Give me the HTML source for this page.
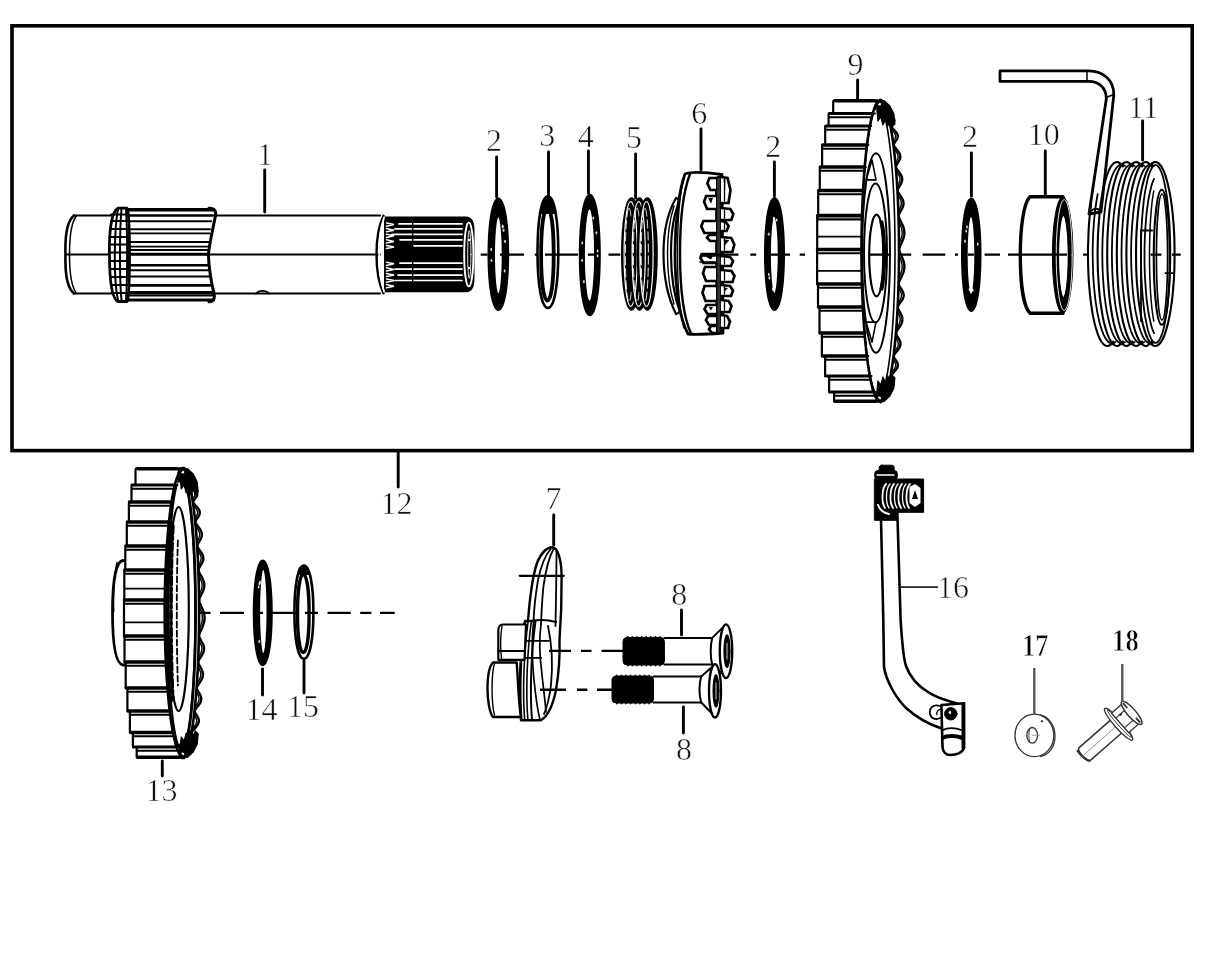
<!DOCTYPE html>
<html><head><meta charset="utf-8"><title>Parts diagram</title>
<style>
html,body{margin:0;padding:0;background:#fff;}
body{width:1220px;height:956px;overflow:hidden;position:relative;font-family:"Liberation Serif",serif;}
svg{position:absolute;left:0;top:0;will-change:transform;}
.k{stroke:#000;fill:none;stroke-linejoin:round;stroke-linecap:round;}
</style></head><body>
<svg width="1220" height="956" viewBox="0 0 1220 956">
<rect x="12" y="25.8" width="1180.2" height="424.8" fill="none" stroke="#000" stroke-width="3.6"/>
<g class="k" stroke-width="1.6">
<path d="M74 215.5 H380 M74 293.5 H380" stroke-width="2.1"/>
<path d="M74 215.5 C66 222 65 240 65.5 254.5 C65 270 66 287 74 293.5" stroke-width="2.6"/>
<path d="M76 216.5 C70.5 224 69.5 240 69.5 254.5 C69.5 270 70.5 285 76 292.5" stroke-width="1.5"/>
<path d="M66 254.5 H112 M206 254.5 H380" stroke-width="2.2"/>
<path d="M126 215.5 H212.1" stroke-width="1.9"/>
<path d="M126 221.3 H211.1" stroke-width="1.9"/>
<path d="M126 229.3 H210.0" stroke-width="1.9"/>
<path d="M126 233.4 H209.6" stroke-width="1.9"/>
<path d="M126 242 H208.9" stroke-width="1.9"/>
<path d="M126 246.6 H208.6" stroke-width="1.9"/>
<path d="M126 250 H208.5" stroke-width="1.9"/>
<path d="M126 270.2 H209.1" stroke-width="1.9"/>
<path d="M126 276.5 H209.6" stroke-width="1.9"/>
<path d="M126 292 H211.8" stroke-width="1.9"/>
<path d="M126 295.5 H212.5" stroke-width="1.9"/>
<path d="M126 209.8 H213.2" stroke-width="3.6"/>
<path d="M126 254.2 H208.5" stroke-width="3.0"/>
<path d="M126 265.3 H208.8" stroke-width="2.6"/>
<path d="M126 285.4 H210.8" stroke-width="2.6"/>
<path d="M126 300 H213.4" stroke-width="3.2"/>
<path d="M209 208.3 C216 208.5 216.5 212 215 218 C211 238 208.5 249 208.5 254.5 C208.5 262 210.5 280 213.5 291 C215.5 298 214 301.5 209 301.8" stroke-width="3"/>
<path d="M118 208.2 C110 212 109 240 109.5 254.5 C109.5 270 110 298 118 301.5 L127 301.5 C129.5 298 129.5 270 129.5 254.5 C129.5 240 129.5 212 127 208.2 Z" stroke-width="2.8" fill="#fff"/>
<path d="M118 209 C114 230 113.5 280 118 300" stroke-width="2"/>
<path d="M121.5 209 C119.5 230 119.5 280 121.5 300" stroke-width="2"/>
<path d="M126 209 C127.5 230 127.5 280 126 300" stroke-width="2"/>
<path d="M111 214.5 H128.5" stroke-width="1.8"/>
<path d="M111 221 H128.5" stroke-width="1.8"/>
<path d="M111 229 H128.5" stroke-width="1.8"/>
<path d="M111 237 H128.5" stroke-width="1.8"/>
<path d="M111 244.5 H128.5" stroke-width="1.8"/>
<path d="M111 252.5 H128.5" stroke-width="1.8"/>
<path d="M111 261 H128.5" stroke-width="1.8"/>
<path d="M111 269 H128.5" stroke-width="1.8"/>
<path d="M111 277 H128.5" stroke-width="1.8"/>
<path d="M111 285 H128.5" stroke-width="1.8"/>
<path d="M111 293 H128.5" stroke-width="1.8"/>
<path d="M256 293.5 C259 290 266 290 269 293.5" stroke-width="1.8"/>
<path d="M384 216.4 H466 C472 216.4 474.5 222 474.5 230 V279 C474.5 287 472 292.2 466 292.2 H384 Z" fill="#000" stroke="none"/>
<path d="M383.5 215.8 C377.5 228 376.5 245 376.5 254.5 C376.5 264 377.5 281 383.5 293.2" stroke-width="2.4"/>
<path d="M384 217.5 C380 229 379.3 245 379.3 254.5 C379.3 264 380 280 384 291.5" stroke="#fff" stroke-width="1.9"/>
<path d="M399 223.9 H462" stroke="#fff" stroke-width="1.7"/>
<path d="M395 228.9 H462" stroke="#fff" stroke-width="1.7"/>
<path d="M392 234.3 H462" stroke="#fff" stroke-width="1.7"/>
<path d="M400 239.8 H462" stroke="#fff" stroke-width="1.7"/>
<path d="M413 245.8 H462" stroke="#fff" stroke-width="1.7"/>
<path d="M400 263.2 H462" stroke="#fff" stroke-width="1.7"/>
<path d="M395 269.1 H462" stroke="#fff" stroke-width="1.7"/>
<path d="M398 275.1 H462" stroke="#fff" stroke-width="1.7"/>
<path d="M395 280.5 H462" stroke="#fff" stroke-width="1.7"/>
<path d="M412.7 220 V286" stroke="#000" stroke-width="1.4"/>
<path d="M386.5 223.0 L394 224.6 L386.5 226.2" stroke="#fff" stroke-width="1.5" stroke-linejoin="miter"/>
<path d="M386.5 228.6 L394 230.2 L386.5 231.8" stroke="#fff" stroke-width="1.5" stroke-linejoin="miter"/>
<path d="M386.5 234.2 L394 235.8 L386.5 237.4" stroke="#fff" stroke-width="1.5" stroke-linejoin="miter"/>
<path d="M386.5 239.8 L394 241.4 L386.5 243.0" stroke="#fff" stroke-width="1.5" stroke-linejoin="miter"/>
<path d="M386.5 245.4 L394 247.0 L386.5 248.6" stroke="#fff" stroke-width="1.5" stroke-linejoin="miter"/>
<path d="M386.5 262.2 L394 263.8 L386.5 265.4" stroke="#fff" stroke-width="1.5" stroke-linejoin="miter"/>
<path d="M386.5 267.8 L394 269.4 L386.5 271.0" stroke="#fff" stroke-width="1.5" stroke-linejoin="miter"/>
<path d="M386.5 273.4 L394 275.0 L386.5 276.6" stroke="#fff" stroke-width="1.5" stroke-linejoin="miter"/>
<path d="M386.5 279.0 L394 280.6 L386.5 282.2" stroke="#fff" stroke-width="1.5" stroke-linejoin="miter"/>
<path d="M386.5 284.6 L394 286.2 L386.5 287.8" stroke="#fff" stroke-width="1.5" stroke-linejoin="miter"/>
<ellipse cx="468.8" cy="254.5" rx="4.6" ry="32" fill="none" stroke="#fff" stroke-width="1.9"/>
<ellipse cx="469.3" cy="254.5" rx="1.6" ry="24" fill="none" stroke="#fff" stroke-width="0.9"/>
<circle cx="469" cy="240" r="1.2" fill="#fff" stroke="none"/><circle cx="469" cy="268" r="1.2" fill="#fff" stroke="none"/>
</g>
<g>
<path d="M631.50 198.50 C636.56 198.50 640.70 222.92 640.70 254.00 C640.70 285.08 636.56 309.50 631.50 309.50 C626.44 309.50 622.30 285.08 622.30 254.00 C622.30 222.92 626.44 198.50 631.50 198.50Z" fill="#000"/>
<path d="M639.50 198.50 C644.56 198.50 648.70 222.92 648.70 254.00 C648.70 285.08 644.56 309.50 639.50 309.50 C634.44 309.50 630.30 285.08 630.30 254.00 C630.30 222.92 634.44 198.50 639.50 198.50Z" fill="#000"/>
<path d="M647.30 198.50 C652.36 198.50 656.50 222.92 656.50 254.00 C656.50 285.08 652.36 309.50 647.30 309.50 C642.24 309.50 638.10 285.08 638.10 254.00 C638.10 222.92 642.24 198.50 647.30 198.50Z" fill="#000"/>
<path d="M631.50 198.50 C636.56 198.50 640.70 222.92 640.70 254.00 C640.70 285.08 636.56 309.50 631.50 309.50 C626.44 309.50 622.30 285.08 622.30 254.00 C622.30 222.92 626.44 198.50 631.50 198.50Z" fill="none" stroke="#000" stroke-width="2.6"/>
<path d="M630.70 201.50 C634.33 201.50 637.30 224.60 637.30 254.00 C637.30 283.40 634.33 306.50 630.70 306.50 C627.07 306.50 624.10 283.40 624.10 254.00 C624.10 224.60 627.07 201.50 630.70 201.50Z" fill="none" stroke="#fff" stroke-width="1.2"/>
<path d="M629.00 208.00 C630.98 208.00 632.60 228.68 632.60 255.00 C632.60 281.32 630.98 302.00 629.00 302.00 C627.02 302.00 625.40 281.32 625.40 255.00 C625.40 228.68 627.02 208.00 629.00 208.00Z" fill="none" stroke="#fff" stroke-width="0.9" stroke-dasharray="9 3"/>
<path d="M639.50 198.50 C644.56 198.50 648.70 222.92 648.70 254.00 C648.70 285.08 644.56 309.50 639.50 309.50 C634.44 309.50 630.30 285.08 630.30 254.00 C630.30 222.92 634.44 198.50 639.50 198.50Z" fill="none" stroke="#000" stroke-width="2.6"/>
<path d="M638.70 201.50 C642.33 201.50 645.30 224.60 645.30 254.00 C645.30 283.40 642.33 306.50 638.70 306.50 C635.07 306.50 632.10 283.40 632.10 254.00 C632.10 224.60 635.07 201.50 638.70 201.50Z" fill="none" stroke="#fff" stroke-width="1.2"/>
<path d="M637.00 208.00 C638.98 208.00 640.60 228.68 640.60 255.00 C640.60 281.32 638.98 302.00 637.00 302.00 C635.02 302.00 633.40 281.32 633.40 255.00 C633.40 228.68 635.02 208.00 637.00 208.00Z" fill="none" stroke="#fff" stroke-width="0.9" stroke-dasharray="9 3"/>
<path d="M647.30 198.50 C652.36 198.50 656.50 222.92 656.50 254.00 C656.50 285.08 652.36 309.50 647.30 309.50 C642.24 309.50 638.10 285.08 638.10 254.00 C638.10 222.92 642.24 198.50 647.30 198.50Z" fill="none" stroke="#000" stroke-width="2.6"/>
<path d="M646.50 201.50 C650.13 201.50 653.10 224.60 653.10 254.00 C653.10 283.40 650.13 306.50 646.50 306.50 C642.87 306.50 639.90 283.40 639.90 254.00 C639.90 224.60 642.87 201.50 646.50 201.50Z" fill="none" stroke="#fff" stroke-width="1.2"/>
<path d="M644.80 208.00 C646.78 208.00 648.40 228.68 648.40 255.00 C648.40 281.32 646.78 302.00 644.80 302.00 C642.82 302.00 641.20 281.32 641.20 255.00 C641.20 228.68 642.82 208.00 644.80 208.00Z" fill="none" stroke="#fff" stroke-width="0.9" stroke-dasharray="9 3"/>
</g>
<g class="k" stroke-width="2.4">
<path d="M676 198 C668 212 663.5 232 663.5 253 C663.5 275 668 298 676 314 L680 312 C674 296 671 275 671 253 C671 232 674 213 680 200 Z" fill="#fff" stroke-width="2.2"/>
<path d="M674 206 C669.5 220 667.5 236 667.5 253 C667.5 272 669.5 290 674 304" stroke-width="1.4"/>
<path d="M685 174 C690 172 700 171.5 722 174.5 L723 333 C705 334.5 695 335 688 334 C679 318 675 285 675 253 C675 222 679 190 685 174 Z" fill="#fff" stroke-width="2.8"/>
<path d="M690 174 C683 192 680 222 680 253 C680 285 683 316 691 333.5" stroke-width="2.4"/>
<path d="M684 178 C679 196 677.5 225 677.5 253 C677.5 282 679 310 684 328" stroke-width="1.4"/>
<path d="M717.5 178 C718.5 230 718.5 280 717.5 332" stroke-width="3.2"/>
<path d="M722 176 L722.5 331" stroke-width="1.8"/>
<path d="M716 178 L716.5 333 L721.5 333 L721 176 Z" fill="#333" stroke-width="2"/>
<path d="M716 178 L709.4 178 L707.4 183.4 L710.4 190 L716 190" fill="#fff" stroke-width="2.7" stroke-linejoin="miter"/>
<path d="M716 196 L706.1 196 L704.1 201.8 L707.1 209 L716 209" fill="#fff" stroke-width="2.7" stroke-linejoin="miter"/>
<path d="M708.1 198 L713 198 L711 203.8 Z" fill="#000" stroke="none"/>
<path d="M716 221 L703.3 221 L701.3 226.4 L704.3 233 L716 233" fill="#fff" stroke-width="2.7" stroke-linejoin="miter"/>
<path d="M716 235 L709 235 L707 237.7 L710 241 L716 241" fill="#fff" stroke-width="2.7" stroke-linejoin="miter"/>
<path d="M716 254 L702.5 254 L700.5 258.1 L703.5 263 L716 263" fill="#fff" stroke-width="2.7" stroke-linejoin="miter"/>
<path d="M704.5 256 L713 256 L711 259.4 Z" fill="#000" stroke="none"/>
<path d="M716 267 L705 267 L703 273.3 L706 281 L716 281" fill="#fff" stroke-width="2.7" stroke-linejoin="miter"/>
<path d="M716 286 L704.5 286 L702.5 292.8 L705.5 301 L716 301" fill="#fff" stroke-width="2.7" stroke-linejoin="miter"/>
<path d="M716 305 L706.5 305 L704.5 309.1 L707.5 314 L716 314" fill="#fff" stroke-width="2.7" stroke-linejoin="miter"/>
<path d="M708.5 307 L713 307 L711 310.4 Z" fill="#000" stroke="none"/>
<path d="M716 316 L708 316 L706 320.1 L709 325 L716 325" fill="#fff" stroke-width="2.7" stroke-linejoin="miter"/>
<path d="M716 326 L711 326 L709 329.1 L712 333 L716 333" fill="#fff" stroke-width="2.7" stroke-linejoin="miter"/>
<path d="M721 177 L727.5 178 L730.5 190.0 L728.5 203 L721 203" fill="#fff" stroke-width="2.7" stroke-linejoin="miter"/>
<path d="M723.5 179.5 L725.5 180 L725 191.3 Z" fill="#000" stroke="none"/>
<path d="M724.5 179 L724.5 201" stroke-width="1.3"/>
<path d="M721 208 L730.3 209 L733.3 214.0 L731.3 220 L721 220" fill="#fff" stroke-width="2.7" stroke-linejoin="miter"/>
<path d="M724.5 210 L724.5 218" stroke-width="1.3"/>
<path d="M721 221 L725.6 222 L728.6 226.0 L726.6 231 L721 231" fill="#fff" stroke-width="2.7" stroke-linejoin="miter"/>
<path d="M724.5 223 L724.5 229" stroke-width="1.3"/>
<path d="M721 237 L731.3 238 L734.3 244.5 L732.3 252 L721 252" fill="#fff" stroke-width="2.7" stroke-linejoin="miter"/>
<path d="M723.5 239.5 L729.3 240 L725 245.2 Z" fill="#000" stroke="none"/>
<path d="M724.5 239 L724.5 250" stroke-width="1.3"/>
<path d="M721 256 L730 257 L733 261.0 L731 266 L721 266" fill="#fff" stroke-width="2.7" stroke-linejoin="miter"/>
<path d="M724.5 258 L724.5 264" stroke-width="1.3"/>
<path d="M721 270 L731.5 271 L734.5 276.0 L732.5 282 L721 282" fill="#fff" stroke-width="2.7" stroke-linejoin="miter"/>
<path d="M724.5 272 L724.5 280" stroke-width="1.3"/>
<path d="M721 285 L730 286 L733 290.5 L731 296 L721 296" fill="#fff" stroke-width="2.7" stroke-linejoin="miter"/>
<path d="M723.5 287.5 L728 288 L725 291.1 Z" fill="#000" stroke="none"/>
<path d="M724.5 287 L724.5 294" stroke-width="1.3"/>
<path d="M721 300 L728.5 301 L731.5 306.0 L729.5 312 L721 312" fill="#fff" stroke-width="2.7" stroke-linejoin="miter"/>
<path d="M724.5 302 L724.5 310" stroke-width="1.3"/>
<path d="M721 315 L727 316 L730 321.5 L728 328 L721 328" fill="#fff" stroke-width="2.7" stroke-linejoin="miter"/>
<path d="M724.5 317 L724.5 326" stroke-width="1.3"/>
<path d="M700 256 H721 M700 262 H716" stroke-width="1.6"/>
</g>
<g class="k">
<path d="M880.0 100.0 L880.1 100.0 L880.3 100.0 L880.4 100.0 L880.6 100.1 L880.7 100.1 L880.9 100.2 L881.1 100.2 L881.2 100.3 L881.4 100.4 L881.5 100.5 L881.7 100.6 L881.9 100.7 L882.0 100.8 L882.2 100.9 L882.4 101.0 L882.6 101.2 L882.8 101.3 L883.0 101.5 L883.2 101.7 L883.4 101.9 L883.7 102.0 L883.9 102.2 L884.2 102.5 L884.4 102.7 L884.7 102.9 L885.0 103.1 L885.3 103.4 L885.6 103.6 L885.9 103.9 L886.2 104.2 L886.5 104.5 L886.8 104.7 L887.1 105.0 L887.4 105.4 L887.7 105.7 L888.0 106.0 L888.3 106.3 L888.5 106.7 L888.7 107.0 L888.9 107.4 L889.0 107.8 L889.1 108.1 L889.2 108.5 L889.2 108.9 L889.2 109.3 L889.1 109.7 L889.0 110.2 L888.9 110.6 L888.7 111.0 L888.5 111.5 L888.3 112.0 L888.1 112.4 L887.9 112.9 L887.8 113.4 L888.1 113.9 L888.6 114.4 L889.2 114.9 L889.8 115.4 L890.5 115.9 L891.2 116.5 L891.9 117.0 L892.6 117.6 L893.2 118.1 L893.7 118.7 L894.1 119.3 L894.3 119.8 L894.4 120.4 L894.4 121.0 L894.1 121.6 L893.8 122.3 L893.3 122.9 L892.7 123.5 L892.1 124.1 L891.4 124.8 L890.9 125.4 L890.7 126.1 L891.1 126.8 L891.7 127.5 L892.3 128.1 L893.0 128.8 L893.7 129.5 L894.4 130.2 L895.1 131.0 L895.7 131.7 L896.3 132.4 L896.8 133.2 L897.2 133.9 L897.5 134.7 L897.7 135.4 L897.8 136.2 L897.7 137.0 L897.6 137.7 L897.3 138.5 L896.9 139.3 L896.4 140.1 L895.8 140.9 L895.3 141.7 L894.7 142.6 L894.2 143.4 L893.7 144.2 L893.5 145.1 L894.0 145.9 L894.5 146.8 L895.2 147.6 L895.9 148.5 L896.6 149.4 L897.4 150.3 L898.1 151.1 L898.7 152.0 L899.2 152.9 L899.7 153.8 L900.0 154.7 L900.2 155.7 L900.3 156.6 L900.2 157.5 L900.1 158.5 L899.7 159.4 L899.3 160.3 L898.8 161.3 L898.2 162.2 L897.6 163.2 L897.0 164.2 L896.5 165.1 L896.0 166.1 L895.8 167.1 L896.3 168.1 L896.9 169.1 L897.6 170.1 L898.3 171.1 L899.1 172.1 L899.8 173.1 L900.5 174.1 L901.1 175.2 L901.6 176.2 L901.9 177.2 L902.1 178.3 L902.2 179.3 L902.1 180.3 L901.9 181.4 L901.5 182.4 L901.1 183.5 L900.5 184.6 L899.9 185.6 L899.2 186.7 L898.5 187.8 L898.0 188.9 L897.5 189.9 L897.6 191.0 L898.1 192.1 L898.7 193.2 L899.5 194.3 L900.2 195.4 L901.0 196.5 L901.6 197.6 L902.3 198.7 L902.8 199.9 L903.2 201.0 L903.4 202.1 L903.5 203.2 L903.5 204.3 L903.3 205.5 L902.9 206.6 L902.5 207.7 L901.9 208.9 L901.3 210.0 L900.6 211.2 L899.9 212.3 L899.3 213.4 L898.7 214.6 L898.5 215.7 L898.8 216.9 L899.2 218.1 L899.7 219.2 L900.3 220.4 L900.9 221.5 L901.4 222.7 L902.0 223.9 L902.5 225.0 L903.0 226.2 L903.4 227.4 L903.8 228.6 L904.0 229.7 L904.2 230.9 L904.3 232.1 L904.4 233.3 L904.3 234.4 L904.1 235.6 L903.8 236.8 L903.5 238.0 L903.1 239.2 L902.6 240.3 L902.1 241.5 L901.6 242.7 L901.0 243.9 L900.5 245.1 L900.0 246.3 L899.5 247.4 L899.2 248.6 L899.0 249.8 L899.3 251.0 L899.8 252.2 L900.2 253.4 L900.8 254.6 L901.3 255.7 L901.8 256.9 L902.4 258.1 L902.8 259.3 L903.3 260.5 L903.7 261.7 L904.0 262.8 L904.2 264.0 L904.3 265.2 L904.4 266.4 L904.4 267.6 L904.2 268.7 L904.0 269.9 L903.7 271.1 L903.4 272.3 L903.0 273.4 L902.5 274.6 L901.9 275.8 L901.4 277.0 L900.8 278.1 L900.3 279.3 L899.7 280.5 L899.2 281.6 L898.8 282.8 L898.5 283.9 L898.9 285.1 L899.5 286.3 L900.2 287.4 L901.0 288.6 L901.7 289.7 L902.4 290.8 L902.9 292.0 L903.3 293.1 L903.6 294.3 L903.7 295.4 L903.5 296.5 L903.2 297.7 L902.8 298.8 L902.2 299.9 L901.5 301.0 L900.7 302.1 L899.8 303.3 L899.0 304.4 L898.3 305.5 L897.8 306.6 L897.8 307.7 L898.2 308.8 L898.7 309.9 L899.3 311.0 L899.9 312.1 L900.5 313.1 L901.0 314.2 L901.5 315.3 L901.9 316.4 L902.2 317.4 L902.4 318.5 L902.4 319.6 L902.3 320.6 L902.1 321.7 L901.8 322.7 L901.4 323.7 L900.9 324.8 L900.3 325.8 L899.6 326.8 L898.9 327.9 L898.2 328.9 L897.5 329.9 L896.9 330.9 L896.4 331.9 L896.0 332.9 L896.2 333.9 L896.6 334.9 L897.1 335.9 L897.7 336.9 L898.3 337.8 L898.9 338.8 L899.4 339.8 L899.8 340.7 L900.1 341.7 L900.4 342.6 L900.4 343.5 L900.4 344.5 L900.3 345.4 L900.0 346.3 L899.6 347.3 L899.1 348.2 L898.6 349.1 L897.9 350.0 L897.2 350.9 L896.5 351.7 L895.8 352.6 L895.1 353.5 L894.5 354.4 L894.0 355.2 L893.7 356.1 L893.9 356.9 L894.3 357.8 L894.8 358.6 L895.4 359.4 L895.9 360.3 L896.4 361.1 L896.9 361.9 L897.3 362.7 L897.6 363.5 L897.8 364.3 L897.9 365.0 L897.8 365.8 L897.7 366.6 L897.4 367.3 L897.1 368.1 L896.6 368.8 L896.1 369.6 L895.5 370.3 L894.9 371.0 L894.2 371.8 L893.5 372.5 L892.9 373.2 L892.2 373.9 L891.6 374.5 L891.1 375.2 L890.7 375.9 L890.8 376.6 L891.1 377.2 L891.6 377.9 L892.0 378.5 L892.5 379.1 L892.9 379.7 L893.3 380.4 L893.5 381.0 L893.8 381.6 L893.9 382.2 L893.9 382.7 L893.9 383.3 L893.7 383.9 L893.5 384.4 L893.2 385.0 L892.8 385.5 L892.4 386.1 L892.0 386.6 L891.5 387.1 L890.9 387.6 L890.4 388.1 L889.9 388.6 L889.4 389.1 L888.9 389.6 L888.4 390.0 L887.9 390.5 L887.5 391.0 L887.2 391.4 L886.9 391.8 L886.8 392.3 L887.0 392.7 L887.1 393.1 L887.4 393.5 L887.5 393.9 L887.7 394.2 L887.8 394.6 L887.9 395.0 L888.0 395.3 L887.9 395.7 L887.9 396.0 L887.8 396.3 L887.6 396.6 L887.4 397.0 L887.2 397.3 L886.9 397.5 L886.6 397.8 L886.3 398.1 L886.0 398.4 L885.7 398.6 L885.4 398.9 L885.1 399.1 L884.8 399.3 L884.5 399.5 L884.2 399.8 L883.9 400.0 L883.6 400.1 L883.4 400.3 L883.1 400.5 L882.9 400.7 L882.7 400.8 L882.5 401.0 L882.3 401.1 L882.1 401.2 L881.9 401.3 L881.7 401.4 L881.5 401.5 L881.4 401.6 L881.2 401.7 L881.1 401.8 L880.9 401.8 L880.7 401.9 L880.6 401.9 L880.4 402.0 L880.3 402.0 L880.1 402.0 L880.0 402.0 L880 402 L880 100 Z" fill="#fff" stroke-width="2.4"/>
<path d="M879.0 100.3 L879.2 100.4 L879.3 100.5 L879.5 100.6 L879.7 100.7 L879.8 100.8 L880.0 100.9 L880.2 101.0 L880.4 101.2 L880.6 101.3 L880.8 101.5 L881.0 101.7 L881.2 101.9 L881.5 102.0 L881.7 102.2 L882.0 102.5 L882.2 102.7 L882.5 102.9 L882.8 103.1 L883.1 103.4 L883.4 103.6 L883.7 103.9 L884.0 104.2 L884.3 104.5 L884.6 104.7 L884.9 105.0 L885.2 105.4 L885.5 105.7 L885.8 106.0 L886.1 106.3 L886.3 106.7 L886.5 107.0 L886.7 107.4 L886.8 107.8 L886.9 108.1 L887.0 108.5 L887.0 108.9 L887.0 109.3 L886.9 109.7 L886.8 110.2 L886.7 110.6 L886.5 111.0 L886.3 111.5 L886.1 112.0 L885.9 112.4 L885.7 112.9 L885.6 113.4 L885.9 113.9 L886.4 114.4 L887.0 114.9 L887.6 115.4 L888.3 115.9 L889.0 116.5 L889.7 117.0 L890.4 117.6 L891.0 118.1 L891.5 118.7 L891.9 119.3 L892.1 119.8 L892.2 120.4 L892.2 121.0 L891.9 121.6 L891.6 122.3 L891.1 122.9 L890.5 123.5 L889.9 124.1 L889.2 124.8 L888.7 125.4 L888.5 126.1 L888.9 126.8 L889.5 127.5 L890.1 128.1 L890.8 128.8 L891.5 129.5 L892.2 130.2 L892.9 131.0 L893.5 131.7 L894.1 132.4 L894.6 133.2 L895.0 133.9 L895.3 134.7 L895.5 135.4 L895.6 136.2 L895.5 137.0 L895.4 137.7 L895.1 138.5 L894.7 139.3 L894.2 140.1 L893.6 140.9 L893.1 141.7 L892.5 142.6 L892.0 143.4 L891.5 144.2 L891.3 145.1 L891.8 145.9 L892.3 146.8 L893.0 147.6 L893.7 148.5 L894.4 149.4 L895.2 150.3 L895.9 151.1 L896.5 152.0 L897.0 152.9 L897.5 153.8 L897.8 154.7 L898.0 155.7 L898.1 156.6 L898.0 157.5 L897.9 158.5 L897.5 159.4 L897.1 160.3 L896.6 161.3 L896.0 162.2 L895.4 163.2 L894.8 164.2 L894.3 165.1 L893.8 166.1 L893.6 167.1 L894.1 168.1 L894.7 169.1 L895.4 170.1 L896.1 171.1 L896.9 172.1 L897.6 173.1 L898.3 174.1 L898.9 175.2 L899.4 176.2 L899.7 177.2 L899.9 178.3 L900.0 179.3 L899.9 180.3 L899.7 181.4 L899.3 182.4 L898.9 183.5 L898.3 184.6 L897.7 185.6 L897.0 186.7 L896.3 187.8 L895.8 188.9 L895.3 189.9 L895.4 191.0 L895.9 192.1 L896.5 193.2 L897.3 194.3 L898.0 195.4 L898.8 196.5 L899.4 197.6 L900.1 198.7 L900.6 199.9 L901.0 201.0 L901.2 202.1 L901.3 203.2 L901.3 204.3 L901.1 205.5 L900.7 206.6 L900.3 207.7 L899.7 208.9 L899.1 210.0 L898.4 211.2 L897.7 212.3 L897.1 213.4 L896.5 214.6 L896.3 215.7 L896.6 216.9 L897.0 218.1 L897.5 219.2 L898.1 220.4 L898.7 221.5 L899.2 222.7 L899.8 223.9 L900.3 225.0 L900.8 226.2 L901.2 227.4 L901.6 228.6 L901.8 229.7 L902.0 230.9 L902.1 232.1 L902.2 233.3 L902.1 234.4 L901.9 235.6 L901.6 236.8 L901.3 238.0 L900.9 239.2 L900.4 240.3 L899.9 241.5 L899.4 242.7 L898.8 243.9 L898.3 245.1 L897.8 246.3 L897.3 247.4 L897.0 248.6 L896.8 249.8 L897.1 251.0 L897.6 252.2 L898.0 253.4 L898.6 254.6 L899.1 255.7 L899.6 256.9 L900.2 258.1 L900.6 259.3 L901.1 260.5 L901.5 261.7 L901.8 262.8 L902.0 264.0 L902.1 265.2 L902.2 266.4 L902.2 267.6 L902.0 268.7 L901.8 269.9 L901.5 271.1 L901.2 272.3 L900.8 273.4 L900.3 274.6 L899.7 275.8 L899.2 277.0 L898.6 278.1 L898.1 279.3 L897.5 280.5 L897.0 281.6 L896.6 282.8 L896.3 283.9 L896.7 285.1 L897.3 286.3 L898.0 287.4 L898.8 288.6 L899.5 289.7 L900.2 290.8 L900.7 292.0 L901.1 293.1 L901.4 294.3 L901.5 295.4 L901.3 296.5 L901.0 297.7 L900.6 298.8 L900.0 299.9 L899.3 301.0 L898.5 302.1 L897.6 303.3 L896.8 304.4 L896.1 305.5 L895.6 306.6 L895.6 307.7 L896.0 308.8 L896.5 309.9 L897.1 311.0 L897.7 312.1 L898.3 313.1 L898.8 314.2 L899.3 315.3 L899.7 316.4 L900.0 317.4 L900.2 318.5 L900.2 319.6 L900.1 320.6 L899.9 321.7 L899.6 322.7 L899.2 323.7 L898.7 324.8 L898.1 325.8 L897.4 326.8 L896.7 327.9 L896.0 328.9 L895.3 329.9 L894.7 330.9 L894.2 331.9 L893.8 332.9 L894.0 333.9 L894.4 334.9 L894.9 335.9 L895.5 336.9 L896.1 337.8 L896.7 338.8 L897.2 339.8 L897.6 340.7 L897.9 341.7 L898.2 342.6 L898.2 343.5 L898.2 344.5 L898.1 345.4 L897.8 346.3 L897.4 347.3 L896.9 348.2 L896.4 349.1 L895.7 350.0 L895.0 350.9 L894.3 351.7 L893.6 352.6 L892.9 353.5 L892.3 354.4 L891.8 355.2 L891.5 356.1 L891.7 356.9 L892.1 357.8 L892.6 358.6 L893.2 359.4 L893.7 360.3 L894.2 361.1 L894.7 361.9 L895.1 362.7 L895.4 363.5 L895.6 364.3 L895.7 365.0 L895.6 365.8 L895.5 366.6 L895.2 367.3 L894.9 368.1 L894.4 368.8 L893.9 369.6 L893.3 370.3 L892.7 371.0 L892.0 371.8 L891.3 372.5 L890.7 373.2 L890.0 373.9 L889.4 374.5 L888.9 375.2 L888.5 375.9 L888.6 376.6 L888.9 377.2 L889.4 377.9 L889.8 378.5 L890.3 379.1 L890.7 379.7 L891.1 380.4 L891.3 381.0 L891.6 381.6 L891.7 382.2 L891.7 382.7 L891.7 383.3 L891.5 383.9 L891.3 384.4 L891.0 385.0 L890.6 385.5 L890.2 386.1 L889.8 386.6 L889.3 387.1 L888.7 387.6 L888.2 388.1 L887.7 388.6 L887.2 389.1 L886.7 389.6 L886.2 390.0 L885.7 390.5 L885.3 391.0 L885.0 391.4 L884.7 391.8 L884.6 392.3 L884.8 392.7 L884.9 393.1 L885.2 393.5 L885.3 393.9 L885.5 394.2 L885.6 394.6 L885.7 395.0 L885.8 395.3 L885.7 395.7 L885.7 396.0 L885.6 396.3 L885.4 396.6 L885.2 397.0 L885.0 397.3 L884.7 397.5 L884.4 397.8 L884.1 398.1 L883.8 398.4 L883.5 398.6 L883.2 398.9 L882.9 399.1 L882.6 399.3 L882.3 399.5 L882.0 399.8 L881.7 400.0 L881.4 400.1 L881.2 400.3 L880.9 400.5 L880.7 400.7 L880.5 400.8 L880.3 401.0 L880.1 401.1 L879.9 401.2 L879.7 401.3 L879.5 401.4 L879.3 401.5 L879.2 401.6 L879.0 401.7" stroke-width="1.4"/>
<ellipse cx="880" cy="251" rx="19" ry="150" fill="#fff" stroke-width="2.6"/>
<ellipse cx="878.5" cy="251" rx="16.5" ry="145" fill="none" stroke-width="1.6"/>
<ellipse cx="876" cy="253" rx="14" ry="99.7" fill="none" stroke-width="2"/>
<ellipse cx="875.5" cy="253" rx="11.5" ry="69.5" fill="none" stroke-width="2"/>
<ellipse cx="876.5" cy="255.5" rx="7.3" ry="40.8" fill="#fff" stroke-width="2.2"/>
<path d="M881.5 222.3 C885 235.9 885 273.6 881.5 288.7" stroke-width="4"/>
<path d="M866 179.9 L872 159.9 L876 179.9 Z" stroke-width="1.6"/>
<path d="M866 322.1 L872 342.1 L876 322.1 Z" stroke-width="1.6"/>
<path d="M874.9 100.0 H835.2 Q833.2 100.0 833.2 102.0 V112.5 Q833.2 113.5 835.2 113.5 H874.9" fill="#fff" stroke-width="2.2"/>
<path d="M871.1 113.5 H830.6 Q828.6 113.5 828.6 115.5 V125.0 Q828.6 126.0 830.6 126.0 H871.1" fill="#fff" stroke-width="2.2"/>
<path d="M868.3 126.0 H827.2 Q825.2 126.0 825.2 128.0 V144.0 Q825.2 145.0 827.2 145.0 H868.3" fill="#fff" stroke-width="2.2"/>
<path d="M865.7 145.0 H824.1 Q822.1 145.0 822.1 147.0 V166.0 Q822.1 167.0 824.1 167.0 H865.7" fill="#fff" stroke-width="2.2"/>
<path d="M863.8 167.0 H821.8 Q819.8 167.0 819.8 169.0 V189.5 Q819.8 190.5 821.8 190.5 H863.8" fill="#fff" stroke-width="2.2"/>
<path d="M862.5 190.5 H820.2 Q818.2 190.5 818.2 192.5 V214.6 Q818.2 215.6 820.2 215.6 H862.5" fill="#fff" stroke-width="2.2"/>
<path d="M861.6 215.6 H819.2 Q817.2 215.6 817.2 217.6 V248.5 Q817.2 249.5 819.2 249.5 H861.6" fill="#fff" stroke-width="2.2"/>
<path d="M861.6 249.5 H819.1 Q817.1 249.5 817.1 251.5 V283.0 Q817.1 284.0 819.1 284.0 H861.6" fill="#fff" stroke-width="2.2"/>
<path d="M862.3 284.0 H820.0 Q818.0 284.0 818.0 286.0 V306.0 Q818.0 307.0 820.0 307.0 H862.3" fill="#fff" stroke-width="2.2"/>
<path d="M863.6 307.0 H821.5 Q819.5 307.0 819.5 309.0 V332.0 Q819.5 333.0 821.5 333.0 H863.6" fill="#fff" stroke-width="2.2"/>
<path d="M865.6 333.0 H823.9 Q821.9 333.0 821.9 335.0 V355.0 Q821.9 356.0 823.9 356.0 H865.6" fill="#fff" stroke-width="2.2"/>
<path d="M868.2 356.0 H827.1 Q825.1 356.0 825.1 358.0 V375.0 Q825.1 376.0 827.1 376.0 H868.2" fill="#fff" stroke-width="2.2"/>
<path d="M871.5 376.0 H831.1 Q829.1 376.0 829.1 378.0 V391.0 Q829.1 392.0 831.1 392.0 H871.5" fill="#fff" stroke-width="2.2"/>
<path d="M875.7 392.0 H836.1 Q834.1 392.0 834.1 394.0 V401.0 Q834.1 402.0 836.1 402.0 H875.7" fill="#fff" stroke-width="2.2"/>
<path d="M829.1 113.5 H872.6" stroke-width="3.1"/>
<path d="M829.1 117.3 H871.7" stroke-width="2.1"/>
<path d="M825.7 126.0 H869.8" stroke-width="3.2"/>
<path d="M825.7 129.8 H869.2" stroke-width="2.1"/>
<path d="M822.6 145.0 H867.0" stroke-width="3.4"/>
<path d="M822.6 148.8 H866.5" stroke-width="2.1"/>
<path d="M820.3 167.0 H864.7" stroke-width="3.5"/>
<path d="M820.3 170.8 H864.4" stroke-width="2.1"/>
<path d="M818.7 190.5 H863.1" stroke-width="3.5"/>
<path d="M818.7 194.3 H862.9" stroke-width="2.1"/>
<path d="M817.7 215.6 H862.0" stroke-width="3.6"/>
<path d="M817.7 219.4 H861.9" stroke-width="2.1"/>
<path d="M817.7 236.6 H861.6" stroke-width="1.7"/>
<path d="M817.6 249.5 H861.5" stroke-width="3.6"/>
<path d="M817.6 253.3 H861.5" stroke-width="2.1"/>
<path d="M817.6 270.9 H861.7" stroke-width="1.7"/>
<path d="M817.6 284.0 H862.0" stroke-width="3.6"/>
<path d="M818.5 287.8 H862.1" stroke-width="2.1"/>
<path d="M818.5 307.0 H862.9" stroke-width="3.5"/>
<path d="M820.0 310.8 H863.1" stroke-width="2.1"/>
<path d="M820.0 333.0 H864.5" stroke-width="3.5"/>
<path d="M822.4 336.8 H864.9" stroke-width="2.1"/>
<path d="M822.4 356.0 H866.8" stroke-width="3.4"/>
<path d="M825.6 359.8 H867.3" stroke-width="2.1"/>
<path d="M825.6 376.0 H869.8" stroke-width="3.2"/>
<path d="M829.6 379.8 H870.6" stroke-width="2.1"/>
<path d="M829.6 392.0 H873.7" stroke-width="3.1"/>
<path d="M834.6 395.8 H875.1" stroke-width="2.1"/>
<path d="M835.7 101.0 H877.8" stroke-width="3.2"/>
<path d="M835.7 401.0 H877.8" stroke-width="3.2"/>
<path d="M875.9 100.0 L883.9 100.5 L889.9 106.0 L893.9 114.0 L894.9 124.0 L891.9 127.0 L889.9 120.0 L887.9 126.0 L885.9 119.0 L882.9 125.0 L880.9 117.0 L877.9 121.0 L876.9 110.0Z" fill="#000" stroke-width="1.2"/>
<circle cx="879.4" cy="104.0" r="1.6" fill="#fff" stroke="none"/>
<path d="M875.9 402.0 L883.9 401.5 L889.9 396.0 L893.9 388.0 L894.9 378.0 L891.9 375.0 L889.9 382.0 L887.9 376.0 L885.9 383.0 L882.9 377.0 L880.9 385.0 L877.9 381.0 L876.9 392.0Z" fill="#000" stroke-width="1.2"/>
<circle cx="879.4" cy="398.0" r="1.6" fill="#fff" stroke="none"/>
<path d="M880.5 100.0 L875.6 105.0 L873.7 110.1 L872.2 115.1 L871.0 120.1 L870.0 125.2 L869.1 130.2 L868.3 135.2 L867.6 140.3 L866.9 145.3 L866.3 150.3 L865.8 155.4 L865.3 160.4 L864.8 165.4 L864.4 170.5 L864.0 175.5 L863.7 180.5 L863.4 185.6 L863.1 190.6 L862.8 195.6 L862.6 200.7 L862.4 205.7 L862.2 210.7 L862.0 215.8 L861.9 220.8 L861.8 225.8 L861.7 230.9 L861.6 235.9 L861.5 240.9 L861.5 246.0 L861.5 251.0 L861.5 256.0 L861.5 261.1 L861.6 266.1 L861.7 271.1 L861.8 276.2 L861.9 281.2 L862.0 286.2 L862.2 291.3 L862.4 296.3 L862.6 301.3 L862.8 306.4 L863.1 311.4 L863.4 316.4 L863.7 321.5 L864.0 326.5 L864.4 331.5 L864.8 336.6 L865.3 341.6 L865.8 346.6 L866.3 351.7 L866.9 356.7 L867.6 361.7 L868.3 366.8 L869.1 371.8 L870.0 376.8 L871.0 381.9 L872.2 386.9 L873.7 391.9 L875.6 397.0 L880.5 402.0" stroke-width="2.6"/>
</g>
<g class="k">
<path d="M1030 196.7 C1023.5 203 1020.3 228 1020.3 255 C1020.3 283 1023.5 307 1030 313.2 L1063 313.2 L1063 196.7 Z" fill="#fff" stroke-width="3.4"/>
<ellipse cx="1062.7" cy="255" rx="10.3" ry="58.2" fill="#000"/>
<ellipse cx="1064.2" cy="255" rx="8" ry="55.5" fill="none" stroke="#fff" stroke-width="0.9"/>
<ellipse cx="1063.4" cy="256.4" rx="5.2" ry="41.4" fill="#fff"/>
<ellipse cx="1063.4" cy="256.4" rx="5.2" ry="41.4" fill="none" stroke-width="1.8"/>
</g>
<g class="k">
<path d="M1000 70.9 H1088.7 C1103 70.9 1114 80 1113.8 95 L1101 212 L1089 214 L1106.3 99 C1106.5 88 1099 81.4 1088.7 81.4 H1000 Z" fill="#fff" stroke-width="2.8"/>
<path d="M1087 71 V81.4 M1106 97.5 L1113.8 94.5" stroke-width="1.5"/>
<path d="M1113.3 341.5 L1112.1 343.1 L1111.0 344.3 L1109.8 345.2 L1108.6 345.8 L1107.5 346.0 L1106.3 345.9 L1105.1 345.4 L1103.9 344.6 L1102.8 343.5 L1101.7 342.0 L1100.5 340.2 L1099.4 338.0 L1098.4 335.6 L1097.4 332.9 L1096.4 329.8 L1095.4 326.5 L1094.5 322.9 L1093.7 319.1 L1092.8 315.0 L1092.1 310.6 L1091.4 306.1 L1090.8 301.4 L1090.2 296.5 L1089.7 291.4 L1089.2 286.2 L1088.8 280.9 L1088.5 275.5 L1088.3 270.0 L1088.1 264.4 L1088.0 258.8 L1088.0 253.2 L1088.0 247.6 L1088.2 242.0 L1088.4 236.4 L1088.6 231.0 L1088.9 225.6 L1089.3 220.3 L1089.8 215.1 L1090.3 210.1 L1090.9 205.2" stroke-width="2.1"/>
<path d="M1115.4 342.1 L1114.2 342.9 L1113.0 343.4 L1111.8 343.5 L1110.6 343.3 L1109.4 342.7 L1108.2 341.8 L1107.1 340.5 L1105.9 338.9 L1104.8 337.0 L1103.7 334.8 L1102.6 332.2 L1101.6 329.4 L1100.6 326.3 L1099.7 322.9 L1098.8 319.2 L1097.9 315.3 L1097.1 311.1 L1096.4 306.7 L1095.7 302.2 L1095.1 297.4 L1094.6 292.5 L1094.1 287.4 L1093.7 282.2 L1093.3 276.9 L1093.1 271.5 L1092.9 266.0 L1092.8 260.5 L1092.7 254.9 L1092.7 249.4 L1092.8 243.9 L1093.0 238.4 L1093.2 233.0 L1093.6 227.6 L1093.9 222.4 L1094.4 217.2 L1094.9 212.3 L1095.5 207.4 L1096.2 202.8 L1096.9 198.3 L1097.7 194.1" stroke-width="1.8"/>
<path d="M1122.9 341.5 L1121.1 343.8 L1119.3 345.3 L1117.5 346.0 L1115.7 345.8 L1113.9 344.9 L1112.1 343.1 L1110.4 340.6 L1108.7 337.2 L1107.1 333.2 L1105.6 328.4 L1104.1 323.0 L1102.8 317.0 L1101.7 310.4 L1100.6 303.3 L1099.7 295.8 L1099.0 287.9 L1098.4 279.7 L1097.9 271.2 L1097.7 262.7 L1097.6 254.0 L1097.7 245.3 L1097.9 236.8 L1098.4 228.3 L1099.0 220.1 L1099.7 212.2 L1100.6 204.7 L1101.7 197.6 L1102.8 191.0 L1104.1 185.0 L1105.6 179.6 L1107.1 174.8 L1108.7 170.8 L1110.4 167.4 L1112.1 164.9 L1113.9 163.1 L1115.7 162.2 L1117.5 162.0 L1119.3 162.7 L1121.1 164.2 L1122.9 166.5" stroke-width="2.1"/>
<path d="M1125.0 342.1 L1123.3 343.2 L1121.6 343.5 L1119.9 343.2 L1118.2 342.1 L1116.6 340.5 L1115.0 338.1 L1113.4 335.1 L1111.9 331.5 L1110.5 327.3 L1109.2 322.6 L1108.0 317.3 L1106.8 311.5 L1105.8 305.3 L1104.9 298.8 L1104.1 291.8 L1103.5 284.6 L1103.0 277.2 L1102.6 269.5 L1102.4 261.8 L1102.3 254.0 L1102.4 246.2 L1102.6 238.5 L1103.0 230.8 L1103.5 223.4 L1104.1 216.2 L1104.9 209.2 L1105.8 202.7 L1106.8 196.5 L1108.0 190.7 L1109.2 185.4 L1110.5 180.7 L1111.9 176.5 L1113.4 172.9 L1115.0 169.9 L1116.6 167.5 L1118.2 165.9 L1119.9 164.8 L1121.6 164.5 L1123.3 164.8 L1125.0 165.9" stroke-width="1.8"/>
<path d="M1132.5 341.5 L1130.7 343.8 L1128.9 345.3 L1127.1 346.0 L1125.3 345.8 L1123.5 344.9 L1121.7 343.1 L1120.0 340.6 L1118.3 337.2 L1116.7 333.2 L1115.2 328.4 L1113.7 323.0 L1112.4 317.0 L1111.3 310.4 L1110.2 303.3 L1109.3 295.8 L1108.6 287.9 L1108.0 279.7 L1107.5 271.2 L1107.3 262.7 L1107.2 254.0 L1107.3 245.3 L1107.5 236.8 L1108.0 228.3 L1108.6 220.1 L1109.3 212.2 L1110.2 204.7 L1111.3 197.6 L1112.4 191.0 L1113.7 185.0 L1115.2 179.6 L1116.7 174.8 L1118.3 170.8 L1120.0 167.4 L1121.7 164.9 L1123.5 163.1 L1125.3 162.2 L1127.1 162.0 L1128.9 162.7 L1130.7 164.2 L1132.5 166.5" stroke-width="2.1"/>
<path d="M1134.6 342.1 L1132.9 343.2 L1131.2 343.5 L1129.5 343.2 L1127.8 342.1 L1126.2 340.5 L1124.6 338.1 L1123.0 335.1 L1121.5 331.5 L1120.1 327.3 L1118.8 322.6 L1117.6 317.3 L1116.4 311.5 L1115.4 305.3 L1114.5 298.8 L1113.7 291.8 L1113.1 284.6 L1112.6 277.2 L1112.2 269.5 L1112.0 261.8 L1111.9 254.0 L1112.0 246.2 L1112.2 238.5 L1112.6 230.8 L1113.1 223.4 L1113.7 216.2 L1114.5 209.2 L1115.4 202.7 L1116.4 196.5 L1117.6 190.7 L1118.8 185.4 L1120.1 180.7 L1121.5 176.5 L1123.0 172.9 L1124.6 169.9 L1126.2 167.5 L1127.8 165.9 L1129.5 164.8 L1131.2 164.5 L1132.9 164.8 L1134.6 165.9" stroke-width="1.8"/>
<path d="M1142.1 341.5 L1140.3 343.8 L1138.5 345.3 L1136.7 346.0 L1134.9 345.8 L1133.1 344.9 L1131.3 343.1 L1129.6 340.6 L1127.9 337.2 L1126.3 333.2 L1124.8 328.4 L1123.3 323.0 L1122.0 317.0 L1120.9 310.4 L1119.8 303.3 L1118.9 295.8 L1118.2 287.9 L1117.6 279.7 L1117.1 271.2 L1116.9 262.7 L1116.8 254.0 L1116.9 245.3 L1117.1 236.8 L1117.6 228.3 L1118.2 220.1 L1118.9 212.2 L1119.8 204.7 L1120.9 197.6 L1122.0 191.0 L1123.3 185.0 L1124.8 179.6 L1126.3 174.8 L1127.9 170.8 L1129.6 167.4 L1131.3 164.9 L1133.1 163.1 L1134.9 162.2 L1136.7 162.0 L1138.5 162.7 L1140.3 164.2 L1142.1 166.5" stroke-width="2.1"/>
<path d="M1144.2 342.1 L1142.5 343.2 L1140.8 343.5 L1139.1 343.2 L1137.4 342.1 L1135.8 340.5 L1134.2 338.1 L1132.6 335.1 L1131.1 331.5 L1129.7 327.3 L1128.4 322.6 L1127.2 317.3 L1126.0 311.5 L1125.0 305.3 L1124.1 298.8 L1123.3 291.8 L1122.7 284.6 L1122.2 277.2 L1121.8 269.5 L1121.6 261.8 L1121.5 254.0 L1121.6 246.2 L1121.8 238.5 L1122.2 230.8 L1122.7 223.4 L1123.3 216.2 L1124.1 209.2 L1125.0 202.7 L1126.0 196.5 L1127.2 190.7 L1128.4 185.4 L1129.7 180.7 L1131.1 176.5 L1132.6 172.9 L1134.2 169.9 L1135.8 167.5 L1137.4 165.9 L1139.1 164.8 L1140.8 164.5 L1142.5 164.8 L1144.2 165.9" stroke-width="1.8"/>
<path d="M1151.7 341.5 L1149.9 343.8 L1148.1 345.3 L1146.3 346.0 L1144.5 345.8 L1142.7 344.9 L1140.9 343.1 L1139.2 340.6 L1137.5 337.2 L1135.9 333.2 L1134.4 328.4 L1132.9 323.0 L1131.6 317.0 L1130.5 310.4 L1129.4 303.3 L1128.5 295.8 L1127.8 287.9 L1127.2 279.7 L1126.7 271.2 L1126.5 262.7 L1126.4 254.0 L1126.5 245.3 L1126.7 236.8 L1127.2 228.3 L1127.8 220.1 L1128.5 212.2 L1129.4 204.7 L1130.5 197.6 L1131.6 191.0 L1132.9 185.0 L1134.4 179.6 L1135.9 174.8 L1137.5 170.8 L1139.2 167.4 L1140.9 164.9 L1142.7 163.1 L1144.5 162.2 L1146.3 162.0 L1148.1 162.7 L1149.9 164.2 L1151.7 166.5" stroke-width="2.1"/>
<path d="M1153.8 342.1 L1152.1 343.2 L1150.4 343.5 L1148.7 343.2 L1147.0 342.1 L1145.4 340.5 L1143.8 338.1 L1142.2 335.1 L1140.8 331.5 L1139.3 327.3 L1138.0 322.6 L1136.8 317.3 L1135.6 311.5 L1134.6 305.3 L1133.7 298.8 L1132.9 291.8 L1132.3 284.6 L1131.8 277.2 L1131.4 269.5 L1131.2 261.8 L1131.1 254.0 L1131.2 246.2 L1131.4 238.5 L1131.8 230.8 L1132.3 223.4 L1132.9 216.2 L1133.7 209.2 L1134.6 202.7 L1135.6 196.5 L1136.8 190.7 L1138.0 185.4 L1139.3 180.7 L1140.8 176.5 L1142.2 172.9 L1143.8 169.9 L1145.4 167.5 L1147.0 165.9 L1148.7 164.8 L1150.4 164.5 L1152.1 164.8 L1153.8 165.9" stroke-width="1.8"/>
<path d="M1136.0 254.0 L1136.1 246.8 L1136.2 239.6 L1136.5 232.5 L1136.9 225.6 L1137.5 218.8 L1138.1 212.2 L1138.8 205.9 L1139.7 199.9 L1140.6 194.3 L1141.7 188.9 L1142.8 184.0 L1144.0 179.6 L1145.2 175.6 L1146.5 172.0 L1147.9 169.0 L1149.3 166.5 L1150.8 164.5 L1152.3 163.1 L1153.8 162.3 L1155.3 162.0 L1156.8 162.3 L1158.3 163.1 L1159.8 164.5 L1161.3 166.5 L1162.7 169.0 L1164.1 172.0 L1165.4 175.6 L1166.6 179.6 L1167.8 184.0 L1168.9 188.9 L1170.0 194.3 L1170.9 199.9 L1171.8 205.9 L1172.5 212.2 L1173.1 218.8 L1173.7 225.6 L1174.1 232.5 L1174.4 239.6 L1174.5 246.8 L1174.6 254.0 L1174.5 261.2 L1174.4 268.4 L1174.1 275.5 L1173.7 282.4 L1173.1 289.2 L1172.5 295.8 L1171.8 302.1 L1170.9 308.1 L1170.0 313.7 L1168.9 319.1 L1167.8 324.0 L1166.6 328.4 L1165.4 332.4 L1164.1 336.0 L1162.7 339.0 L1161.3 341.5 L1159.8 343.5 L1158.3 344.9 L1156.8 345.7 L1155.3 346.0 L1153.8 345.7 L1152.3 344.9 L1150.8 343.5 L1149.3 341.5 L1147.9 339.0 L1146.5 336.0 L1145.2 332.4 L1144.0 328.4 L1142.8 324.0 L1141.7 319.1 L1140.6 313.7 L1139.7 308.1 L1138.8 302.1 L1138.1 295.8 L1137.5 289.2 L1136.9 282.4 L1136.5 275.5 L1136.2 268.4 L1136.1 261.2 L1136.0 254.0" stroke-width="2.1"/>
<path d="M1140.9 254.0 L1140.9 247.0 L1141.1 240.1 L1141.3 233.2 L1141.6 226.5 L1142.0 219.9 L1142.5 213.6 L1143.1 207.5 L1143.7 201.7 L1144.4 196.2 L1145.2 191.1 L1146.1 186.3 L1147.0 182.0 L1147.9 178.1 L1148.9 174.7 L1150.0 171.8 L1151.1 169.4 L1152.2 167.5 L1153.3 166.1 L1154.4 165.3 L1155.6 165.0 L1156.8 165.3 L1157.9 166.1 L1159.0 167.5 L1160.1 169.4 L1161.2 171.8 L1162.3 174.7 L1163.3 178.1 L1164.2 182.0 L1165.1 186.3 L1166.0 191.1 L1166.8 196.2 L1167.5 201.7 L1168.1 207.5 L1168.7 213.6 L1169.2 219.9 L1169.6 226.5 L1169.9 233.2 L1170.1 240.1 L1170.3 247.0 L1170.3 254.0 L1170.3 261.0 L1170.1 267.9 L1169.9 274.8 L1169.6 281.5 L1169.2 288.1 L1168.7 294.4 L1168.1 300.5 L1167.5 306.3 L1166.8 311.8 L1166.0 316.9 L1165.1 321.7 L1164.2 326.0 L1163.3 329.9 L1162.3 333.3 L1161.2 336.2 L1160.1 338.6 L1159.0 340.5 L1157.9 341.9 L1156.8 342.7 L1155.6 343.0 L1154.4 342.7 L1153.3 341.9 L1152.2 340.5 L1151.1 338.6 L1150.0 336.2 L1148.9 333.3 L1147.9 329.9 L1147.0 326.0 L1146.1 321.7 L1145.2 316.9 L1144.4 311.8 L1143.7 306.3 L1143.1 300.5 L1142.5 294.4 L1142.0 288.1 L1141.6 281.5 L1141.3 274.8 L1141.1 267.9 L1140.9 261.0 L1140.9 254.0" stroke-width="1.8"/>
<path d="M1089 214 C1092 208 1098 207 1101 212" stroke-width="2"/>
<ellipse cx="1161.75" cy="257.3" rx="8" ry="67.5" fill="#fff" stroke-width="2.1"/>
<ellipse cx="1162" cy="257" rx="5.6" ry="63" fill="none" stroke-width="1.7"/>
<path d="M1154.0 333.1 L1153.2 331.2 L1152.4 329.1 L1151.6 326.7 L1150.9 324.0 L1150.2 321.1 L1149.5 317.9 L1148.8 314.5 L1148.2 310.9 L1147.7 307.0 L1147.1 303.0 L1146.6 298.8 L1146.2 294.5 L1145.8 290.0 L1145.5 285.4 L1145.2 280.7 L1144.9 275.8 L1144.7 270.9 L1144.6 266.0 L1144.5 261.0 L1144.5 256.0 L1144.5 251.0 L1144.6 246.0 L1144.7 241.1 L1144.9 236.2 L1145.2 231.3 L1145.5 226.6 L1145.8 222.0 L1146.2 217.5 L1146.6 213.2 L1147.1 209.0 L1147.7 205.0 L1148.2 201.1 L1148.8 197.5 L1149.5 194.1 L1150.2 190.9 L1150.9 188.0 L1151.6 185.3 L1152.4 182.9 L1153.2 180.8 L1154.0 178.9" stroke-width="1.8"/>
<path d="M1153.8 321.0 L1153.4 318.9 L1153.0 316.7 L1152.7 314.3 L1152.3 311.7 L1152.0 309.0 L1151.7 306.2 L1151.4 303.2 L1151.1 300.1 L1150.9 296.8 L1150.6 293.5 L1150.4 290.0 L1150.2 286.5 L1150.1 282.9 L1149.9 279.2 L1149.8 275.4 L1149.7 271.6 L1149.6 267.7 L1149.5 263.8 L1149.5 259.9 L1149.5 256.0 L1149.5 252.1 L1149.5 248.2 L1149.6 244.3 L1149.7 240.4 L1149.8 236.6 L1149.9 232.8 L1150.1 229.1 L1150.2 225.5 L1150.4 222.0 L1150.6 218.5 L1150.9 215.2 L1151.1 211.9 L1151.4 208.8 L1151.7 205.8 L1152.0 203.0 L1152.3 200.3 L1152.7 197.7 L1153.0 195.3 L1153.4 193.1 L1153.8 191.0" stroke-width="1.5"/>
</g>
<g class="k"><path d="M123 560.5 C116 561 112.5 580 112.5 612 C112.5 645 116 664 123 665 L135 665 L135 560.5 Z" fill="#fff" stroke-width="2.8"/><path d="M117 562 C114 575 113.5 600 113.8 612" stroke-width="1.2"/></g>
<g class="k">
<path d="M181.9 468.0 L182.0 468.0 L182.2 468.0 L182.3 468.0 L182.4 468.1 L182.6 468.1 L182.7 468.2 L182.9 468.2 L183.0 468.3 L183.1 468.4 L183.3 468.4 L183.4 468.5 L183.6 468.6 L183.7 468.8 L183.9 468.9 L184.0 469.0 L184.2 469.1 L184.4 469.3 L184.5 469.4 L184.7 469.6 L184.9 469.8 L185.1 470.0 L185.3 470.2 L185.5 470.4 L185.7 470.6 L186.0 470.8 L186.2 471.0 L186.5 471.2 L186.7 471.5 L187.0 471.7 L187.2 472.0 L187.5 472.3 L187.8 472.6 L188.1 472.8 L188.4 473.1 L188.7 473.4 L189.0 473.8 L189.3 474.1 L189.6 474.4 L189.9 474.7 L190.1 475.1 L190.4 475.5 L190.6 475.8 L190.9 476.2 L191.1 476.6 L191.3 477.0 L191.4 477.4 L191.5 477.8 L191.6 478.2 L191.7 478.6 L191.7 479.0 L191.7 479.5 L191.6 479.9 L191.5 480.4 L191.4 480.8 L191.3 481.3 L191.1 481.8 L190.9 482.3 L190.7 482.8 L190.4 483.3 L190.2 483.8 L190.1 484.3 L190.0 484.9 L190.2 485.4 L190.6 485.9 L191.1 486.5 L191.6 487.0 L192.2 487.6 L192.9 488.2 L193.5 488.8 L194.2 489.4 L194.8 490.0 L195.4 490.6 L195.9 491.2 L196.4 491.8 L196.8 492.4 L197.0 493.1 L197.2 493.7 L197.2 494.4 L197.1 495.0 L196.9 495.7 L196.6 496.4 L196.2 497.0 L195.7 497.7 L195.2 498.4 L194.7 499.1 L194.1 499.8 L193.6 500.6 L193.2 501.3 L193.0 502.0 L193.3 502.7 L193.9 503.5 L194.5 504.2 L195.2 505.0 L195.9 505.8 L196.6 506.5 L197.3 507.3 L197.9 508.1 L198.5 508.9 L199.0 509.7 L199.3 510.5 L199.6 511.3 L199.8 512.1 L199.8 512.9 L199.7 513.7 L199.4 514.6 L199.1 515.4 L198.6 516.3 L198.1 517.1 L197.5 518.0 L196.9 518.8 L196.3 519.7 L195.8 520.6 L195.4 521.5 L195.4 522.3 L195.8 523.2 L196.4 524.1 L197.0 525.0 L197.7 525.9 L198.4 526.9 L199.1 527.8 L199.7 528.7 L200.3 529.6 L200.8 530.6 L201.2 531.5 L201.5 532.4 L201.8 533.4 L201.8 534.3 L201.8 535.3 L201.7 536.3 L201.4 537.2 L201.0 538.2 L200.6 539.2 L200.1 540.2 L199.5 541.2 L198.9 542.1 L198.3 543.1 L197.8 544.1 L197.4 545.2 L197.2 546.2 L197.6 547.2 L198.2 548.2 L198.9 549.2 L199.6 550.2 L200.4 551.3 L201.1 552.3 L201.7 553.3 L202.3 554.4 L202.8 555.4 L203.1 556.5 L203.3 557.5 L203.3 558.6 L203.2 559.6 L203.0 560.7 L202.6 561.7 L202.1 562.8 L201.5 563.9 L200.9 565.0 L200.2 566.0 L199.6 567.1 L199.0 568.2 L198.5 569.3 L198.4 570.4 L198.8 571.5 L199.3 572.5 L199.8 573.6 L200.4 574.7 L201.1 575.8 L201.7 576.9 L202.2 578.0 L202.8 579.2 L203.2 580.3 L203.6 581.4 L204.0 582.5 L204.2 583.6 L204.3 584.7 L204.3 585.8 L204.2 586.9 L204.0 588.1 L203.7 589.2 L203.3 590.3 L202.8 591.4 L202.3 592.6 L201.7 593.7 L201.1 594.8 L200.6 596.0 L200.0 597.1 L199.5 598.2 L199.2 599.4 L199.1 600.5 L199.4 601.6 L199.8 602.8 L200.2 603.9 L200.7 605.0 L201.2 606.2 L201.7 607.3 L202.2 608.4 L202.7 609.6 L203.2 610.7 L203.6 611.9 L203.9 613.0 L204.2 614.1 L204.4 615.3 L204.5 616.4 L204.6 617.6 L204.6 618.7 L204.5 619.8 L204.3 621.0 L204.1 622.1 L203.8 623.2 L203.4 624.4 L203.0 625.5 L202.6 626.6 L202.1 627.8 L201.6 628.9 L201.0 630.0 L200.5 631.2 L200.0 632.3 L199.6 633.4 L199.2 634.6 L198.9 635.7 L199.1 636.8 L199.6 637.9 L200.1 639.1 L200.8 640.2 L201.4 641.3 L202.1 642.4 L202.7 643.5 L203.2 644.6 L203.6 645.7 L203.9 646.8 L204.0 648.0 L204.1 649.1 L203.9 650.2 L203.7 651.3 L203.3 652.4 L202.9 653.5 L202.3 654.5 L201.6 655.6 L201.0 656.7 L200.3 657.8 L199.6 658.9 L198.9 660.0 L198.4 661.0 L198.1 662.1 L198.4 663.2 L198.9 664.3 L199.4 665.3 L200.0 666.4 L200.6 667.4 L201.2 668.5 L201.7 669.5 L202.1 670.6 L202.5 671.6 L202.8 672.7 L202.9 673.7 L203.0 674.7 L202.9 675.8 L202.7 676.8 L202.4 677.8 L201.9 678.8 L201.4 679.8 L200.8 680.8 L200.2 681.9 L199.6 682.9 L198.9 683.9 L198.2 684.8 L197.6 685.8 L197.1 686.8 L196.7 687.8 L196.8 688.8 L197.2 689.7 L197.7 690.7 L198.3 691.7 L198.9 692.6 L199.5 693.6 L200.0 694.5 L200.4 695.4 L200.8 696.4 L201.1 697.3 L201.2 698.2 L201.2 699.1 L201.1 700.1 L200.9 701.0 L200.6 701.9 L200.2 702.8 L199.7 703.7 L199.1 704.5 L198.4 705.4 L197.7 706.3 L197.1 707.2 L196.4 708.0 L195.7 708.9 L195.2 709.7 L194.7 710.6 L194.6 711.4 L194.9 712.3 L195.4 713.1 L195.8 713.9 L196.3 714.7 L196.8 715.5 L197.3 716.3 L197.8 717.1 L198.1 717.9 L198.4 718.7 L198.7 719.5 L198.8 720.2 L198.8 721.0 L198.8 721.8 L198.6 722.5 L198.4 723.3 L198.1 724.0 L197.7 724.7 L197.2 725.4 L196.7 726.2 L196.1 726.9 L195.5 727.6 L194.9 728.3 L194.3 729.0 L193.7 729.6 L193.1 730.3 L192.6 731.0 L192.1 731.6 L191.7 732.3 L191.8 732.9 L192.2 733.6 L192.6 734.2 L193.2 734.8 L193.7 735.4 L194.1 736.0 L194.5 736.6 L194.9 737.2 L195.1 737.8 L195.2 738.4 L195.2 739.0 L195.1 739.5 L194.9 740.1 L194.7 740.6 L194.3 741.1 L193.9 741.7 L193.4 742.2 L192.8 742.7 L192.3 743.2 L191.7 743.7 L191.1 744.2 L190.6 744.7 L190.1 745.2 L189.6 745.6 L189.1 746.1 L188.8 746.5 L188.5 747.0 L188.5 747.4 L188.7 747.8 L188.9 748.2 L189.1 748.6 L189.3 749.0 L189.5 749.4 L189.7 749.8 L189.8 750.2 L189.8 750.5 L189.8 750.9 L189.8 751.3 L189.7 751.6 L189.6 751.9 L189.5 752.2 L189.3 752.6 L189.0 752.9 L188.8 753.2 L188.5 753.4 L188.2 753.7 L187.9 754.0 L187.6 754.3 L187.3 754.5 L187.0 754.8 L186.8 755.0 L186.5 755.2 L186.2 755.4 L185.9 755.6 L185.6 755.8 L185.4 756.0 L185.2 756.2 L184.9 756.4 L184.7 756.6 L184.5 756.7 L184.3 756.9 L184.1 757.0 L183.9 757.1 L183.8 757.2 L183.6 757.4 L183.4 757.5 L183.3 757.6 L183.1 757.6 L183.0 757.7 L182.9 757.8 L182.7 757.8 L182.6 757.9 L182.4 757.9 L182.3 758.0 L182.2 758.0 L182.0 758.0 L181.9 758.0 L181.9 758 L181.9 468 Z" fill="#fff" stroke-width="2.4"/>
<path d="M180.8 468.3 L180.9 468.4 L181.1 468.4 L181.2 468.5 L181.4 468.6 L181.5 468.8 L181.7 468.9 L181.8 469.0 L182.0 469.1 L182.2 469.3 L182.3 469.4 L182.5 469.6 L182.7 469.8 L182.9 470.0 L183.1 470.2 L183.3 470.4 L183.5 470.6 L183.8 470.8 L184.0 471.0 L184.3 471.2 L184.5 471.5 L184.8 471.7 L185.0 472.0 L185.3 472.3 L185.6 472.6 L185.9 472.8 L186.2 473.1 L186.5 473.4 L186.8 473.8 L187.1 474.1 L187.4 474.4 L187.7 474.7 L187.9 475.1 L188.2 475.5 L188.4 475.8 L188.7 476.2 L188.9 476.6 L189.1 477.0 L189.2 477.4 L189.3 477.8 L189.4 478.2 L189.5 478.6 L189.5 479.0 L189.5 479.5 L189.4 479.9 L189.3 480.4 L189.2 480.8 L189.1 481.3 L188.9 481.8 L188.7 482.3 L188.5 482.8 L188.2 483.3 L188.0 483.8 L187.9 484.3 L187.8 484.9 L188.0 485.4 L188.4 485.9 L188.9 486.5 L189.4 487.0 L190.0 487.6 L190.7 488.2 L191.3 488.8 L192.0 489.4 L192.6 490.0 L193.2 490.6 L193.7 491.2 L194.2 491.8 L194.6 492.4 L194.8 493.1 L195.0 493.7 L195.0 494.4 L194.9 495.0 L194.7 495.7 L194.4 496.4 L194.0 497.0 L193.5 497.7 L193.0 498.4 L192.5 499.1 L191.9 499.8 L191.4 500.6 L191.0 501.3 L190.8 502.0 L191.1 502.7 L191.7 503.5 L192.3 504.2 L193.0 505.0 L193.7 505.8 L194.4 506.5 L195.1 507.3 L195.7 508.1 L196.3 508.9 L196.8 509.7 L197.1 510.5 L197.4 511.3 L197.6 512.1 L197.6 512.9 L197.5 513.7 L197.2 514.6 L196.9 515.4 L196.4 516.3 L195.9 517.1 L195.3 518.0 L194.7 518.8 L194.1 519.7 L193.6 520.6 L193.2 521.5 L193.2 522.3 L193.6 523.2 L194.2 524.1 L194.8 525.0 L195.5 525.9 L196.2 526.9 L196.9 527.8 L197.5 528.7 L198.1 529.6 L198.6 530.6 L199.0 531.5 L199.3 532.4 L199.6 533.4 L199.6 534.3 L199.6 535.3 L199.5 536.3 L199.2 537.2 L198.8 538.2 L198.4 539.2 L197.9 540.2 L197.3 541.2 L196.7 542.1 L196.1 543.1 L195.6 544.1 L195.2 545.2 L195.0 546.2 L195.4 547.2 L196.0 548.2 L196.7 549.2 L197.4 550.2 L198.2 551.3 L198.9 552.3 L199.5 553.3 L200.1 554.4 L200.6 555.4 L200.9 556.5 L201.1 557.5 L201.1 558.6 L201.0 559.6 L200.8 560.7 L200.4 561.7 L199.9 562.8 L199.3 563.9 L198.7 565.0 L198.0 566.0 L197.4 567.1 L196.8 568.2 L196.3 569.3 L196.2 570.4 L196.6 571.5 L197.1 572.5 L197.6 573.6 L198.2 574.7 L198.9 575.8 L199.5 576.9 L200.0 578.0 L200.6 579.2 L201.0 580.3 L201.4 581.4 L201.8 582.5 L202.0 583.6 L202.1 584.7 L202.1 585.8 L202.0 586.9 L201.8 588.1 L201.5 589.2 L201.1 590.3 L200.6 591.4 L200.1 592.6 L199.5 593.7 L198.9 594.8 L198.4 596.0 L197.8 597.1 L197.3 598.2 L197.0 599.4 L196.9 600.5 L197.2 601.6 L197.6 602.8 L198.0 603.9 L198.5 605.0 L199.0 606.2 L199.5 607.3 L200.0 608.4 L200.5 609.6 L201.0 610.7 L201.4 611.9 L201.7 613.0 L202.0 614.1 L202.2 615.3 L202.3 616.4 L202.4 617.6 L202.4 618.7 L202.3 619.8 L202.1 621.0 L201.9 622.1 L201.6 623.2 L201.2 624.4 L200.8 625.5 L200.4 626.6 L199.9 627.8 L199.4 628.9 L198.8 630.0 L198.3 631.2 L197.8 632.3 L197.4 633.4 L197.0 634.6 L196.7 635.7 L196.9 636.8 L197.4 637.9 L197.9 639.1 L198.6 640.2 L199.2 641.3 L199.9 642.4 L200.5 643.5 L201.0 644.6 L201.4 645.7 L201.7 646.8 L201.8 648.0 L201.9 649.1 L201.7 650.2 L201.5 651.3 L201.1 652.4 L200.7 653.5 L200.1 654.5 L199.4 655.6 L198.8 656.7 L198.1 657.8 L197.4 658.9 L196.7 660.0 L196.2 661.0 L195.9 662.1 L196.2 663.2 L196.7 664.3 L197.2 665.3 L197.8 666.4 L198.4 667.4 L199.0 668.5 L199.5 669.5 L199.9 670.6 L200.3 671.6 L200.6 672.7 L200.7 673.7 L200.8 674.7 L200.7 675.8 L200.5 676.8 L200.2 677.8 L199.7 678.8 L199.2 679.8 L198.6 680.8 L198.0 681.9 L197.4 682.9 L196.7 683.9 L196.0 684.8 L195.4 685.8 L194.9 686.8 L194.5 687.8 L194.6 688.8 L195.0 689.7 L195.5 690.7 L196.1 691.7 L196.7 692.6 L197.3 693.6 L197.8 694.5 L198.2 695.4 L198.6 696.4 L198.9 697.3 L199.0 698.2 L199.0 699.1 L198.9 700.1 L198.7 701.0 L198.4 701.9 L198.0 702.8 L197.5 703.7 L196.9 704.5 L196.2 705.4 L195.5 706.3 L194.9 707.2 L194.2 708.0 L193.5 708.9 L193.0 709.7 L192.5 710.6 L192.4 711.4 L192.7 712.3 L193.2 713.1 L193.6 713.9 L194.1 714.7 L194.6 715.5 L195.1 716.3 L195.6 717.1 L195.9 717.9 L196.2 718.7 L196.5 719.5 L196.6 720.2 L196.6 721.0 L196.6 721.8 L196.4 722.5 L196.2 723.3 L195.9 724.0 L195.5 724.7 L195.0 725.4 L194.5 726.2 L193.9 726.9 L193.3 727.6 L192.7 728.3 L192.1 729.0 L191.5 729.6 L190.9 730.3 L190.4 731.0 L189.9 731.6 L189.5 732.3 L189.6 732.9 L190.0 733.6 L190.4 734.2 L191.0 734.8 L191.5 735.4 L191.9 736.0 L192.3 736.6 L192.7 737.2 L192.9 737.8 L193.0 738.4 L193.0 739.0 L192.9 739.5 L192.7 740.1 L192.5 740.6 L192.1 741.1 L191.7 741.7 L191.2 742.2 L190.6 742.7 L190.1 743.2 L189.5 743.7 L188.9 744.2 L188.4 744.7 L187.9 745.2 L187.4 745.6 L186.9 746.1 L186.6 746.5 L186.3 747.0 L186.3 747.4 L186.5 747.8 L186.7 748.2 L186.9 748.6 L187.1 749.0 L187.3 749.4 L187.5 749.8 L187.6 750.2 L187.6 750.5 L187.6 750.9 L187.6 751.3 L187.5 751.6 L187.4 751.9 L187.3 752.2 L187.1 752.6 L186.8 752.9 L186.6 753.2 L186.3 753.4 L186.0 753.7 L185.7 754.0 L185.4 754.3 L185.1 754.5 L184.8 754.8 L184.6 755.0 L184.3 755.2 L184.0 755.4 L183.7 755.6 L183.4 755.8 L183.2 756.0 L183.0 756.2 L182.7 756.4 L182.5 756.6 L182.3 756.7 L182.1 756.9 L181.9 757.0 L181.7 757.1 L181.6 757.2 L181.4 757.4 L181.2 757.5 L181.1 757.6 L180.9 757.6 L180.8 757.7" stroke-width="1.4"/>
<ellipse cx="181.9" cy="613" rx="17.2" ry="144" fill="#fff" stroke-width="2.6"/>
<ellipse cx="180.4" cy="613" rx="14.7" ry="139" fill="none" stroke-width="1.6"/>
<ellipse cx="181.4" cy="613" rx="14.2" ry="137" fill="none" stroke-width="2.8"/>
<ellipse cx="178.6" cy="609" rx="10.2" ry="102" fill="none" stroke-width="2.2"/>
<path d="M172.9 526.0 C170.4 569.5 170.4 656.5 172.9 700.0" stroke-width="3.6" stroke-dasharray="8 3 3 3"/>
<path d="M177.9 540.5 C176.4 584.0 176.4 642.0 177.9 685.5" stroke-width="1.8" stroke-dasharray="6 3"/>
<path d="M165.9 485.4 C173.9 473.8 183.9 479.6 189.9 494.1" stroke-width="3.2"/>
<path d="M165.9 740.6 C173.9 752.2 183.9 746.4 189.9 731.9" stroke-width="3.2"/>
<path d="M177.4 468.0 H137.5 Q135.5 468.0 135.5 470.0 V484.0 Q135.5 485.0 137.5 485.0 H177.4" fill="#fff" stroke-width="2.2"/>
<path d="M173.0 485.0 H133.5 Q131.5 485.0 131.5 487.0 V501.0 Q131.5 502.0 133.5 502.0 H173.0" fill="#fff" stroke-width="2.2"/>
<path d="M170.1 502.0 H130.9 Q128.9 502.0 128.9 504.0 V521.0 Q128.9 522.0 130.9 522.0 H170.1" fill="#fff" stroke-width="2.2"/>
<path d="M167.8 522.0 H128.8 Q126.8 522.0 126.8 524.0 V545.0 Q126.8 546.0 128.8 546.0 H167.8" fill="#fff" stroke-width="2.2"/>
<path d="M166.1 546.0 H127.3 Q125.3 546.0 125.3 548.0 V569.0 Q125.3 570.0 127.3 570.0 H166.1" fill="#fff" stroke-width="2.2"/>
<path d="M165.1 570.0 H126.3 Q124.3 570.0 124.3 572.0 V599.0 Q124.3 600.0 126.3 600.0 H165.1" fill="#fff" stroke-width="2.2"/>
<path d="M164.7 600.0 H126.0 Q124.0 600.0 124.0 602.0 V635.0 Q124.0 636.0 126.0 636.0 H164.7" fill="#fff" stroke-width="2.2"/>
<path d="M165.3 636.0 H126.5 Q124.5 636.0 124.5 638.0 V661.0 Q124.5 662.0 126.5 662.0 H165.3" fill="#fff" stroke-width="2.2"/>
<path d="M166.5 662.0 H127.7 Q125.7 662.0 125.7 664.0 V687.0 Q125.7 688.0 127.7 688.0 H166.5" fill="#fff" stroke-width="2.2"/>
<path d="M168.5 688.0 H129.4 Q127.4 688.0 127.4 690.0 V710.0 Q127.4 711.0 129.4 711.0 H168.5" fill="#fff" stroke-width="2.2"/>
<path d="M171.2 711.0 H131.9 Q129.9 711.0 129.9 713.0 V731.5 Q129.9 732.5 131.9 732.5 H171.2" fill="#fff" stroke-width="2.2"/>
<path d="M174.6 732.5 H134.9 Q132.9 732.5 132.9 734.5 V746.0 Q132.9 747.0 134.9 747.0 H174.6" fill="#fff" stroke-width="2.2"/>
<path d="M178.7 747.0 H138.7 Q136.7 747.0 136.7 749.0 V757.0 Q136.7 758.0 138.7 758.0 H178.7" fill="#fff" stroke-width="2.2"/>
<path d="M132.0 485.0 H174.9" stroke-width="3.2"/>
<path d="M132.0 488.8 H174.0" stroke-width="2.1"/>
<path d="M129.4 502.0 H171.5" stroke-width="3.3"/>
<path d="M129.4 505.8 H171.0" stroke-width="2.1"/>
<path d="M127.3 522.0 H169.0" stroke-width="3.4"/>
<path d="M127.3 525.8 H168.6" stroke-width="2.1"/>
<path d="M125.8 546.0 H166.9" stroke-width="3.5"/>
<path d="M125.8 549.8 H166.6" stroke-width="2.1"/>
<path d="M124.8 570.0 H165.6" stroke-width="3.6"/>
<path d="M124.8 573.8 H165.4" stroke-width="2.1"/>
<path d="M124.8 588.6 H165.0" stroke-width="1.7"/>
<path d="M124.5 600.0 H164.8" stroke-width="3.6"/>
<path d="M124.5 603.8 H164.7" stroke-width="2.1"/>
<path d="M124.5 622.3 H164.7" stroke-width="1.7"/>
<path d="M124.5 636.0 H164.9" stroke-width="3.6"/>
<path d="M125.0 639.8 H165.0" stroke-width="2.1"/>
<path d="M125.0 662.0 H165.8" stroke-width="3.6"/>
<path d="M126.2 665.8 H166.0" stroke-width="2.1"/>
<path d="M126.2 688.0 H167.5" stroke-width="3.5"/>
<path d="M127.9 691.8 H167.8" stroke-width="2.1"/>
<path d="M127.9 711.0 H169.7" stroke-width="3.4"/>
<path d="M130.4 714.8 H170.2" stroke-width="2.1"/>
<path d="M130.4 732.5 H173.0" stroke-width="3.3"/>
<path d="M133.4 736.3 H173.8" stroke-width="2.1"/>
<path d="M133.4 747.0 H176.6" stroke-width="3.1"/>
<path d="M137.2 750.8 H177.9" stroke-width="2.1"/>
<path d="M138.3 469.0 H181.1" stroke-width="3.2"/>
<path d="M138.3 757.0 H181.1" stroke-width="3.2"/>
<path d="M179.2 468.0 L187.2 468.5 L193.2 474.0 L197.2 482.0 L198.2 492.0 L195.2 495.0 L193.2 488.0 L191.2 494.0 L189.2 487.0 L186.2 493.0 L184.2 485.0 L181.2 489.0 L180.2 478.0Z" fill="#000" stroke-width="1.2"/>
<circle cx="182.7" cy="472.0" r="1.6" fill="#fff" stroke="none"/>
<path d="M179.2 758.0 L187.2 757.5 L193.2 752.0 L197.2 744.0 L198.2 734.0 L195.2 731.0 L193.2 738.0 L191.2 732.0 L189.2 739.0 L186.2 733.0 L184.2 741.0 L181.2 737.0 L180.2 748.0Z" fill="#000" stroke-width="1.2"/>
<circle cx="182.7" cy="754.0" r="1.6" fill="#fff" stroke="none"/>
<path d="M183.9 468.0 L179.0 472.8 L177.0 477.7 L175.5 482.5 L174.3 487.3 L173.3 492.2 L172.4 497.0 L171.6 501.8 L170.8 506.7 L170.2 511.5 L169.6 516.3 L169.0 521.2 L168.5 526.0 L168.1 530.8 L167.7 535.7 L167.3 540.5 L166.9 545.3 L166.6 550.2 L166.3 555.0 L166.0 559.8 L165.8 564.7 L165.6 569.5 L165.4 574.3 L165.2 579.2 L165.1 584.0 L165.0 588.8 L164.9 593.7 L164.8 598.5 L164.7 603.3 L164.7 608.2 L164.7 613.0 L164.7 617.8 L164.7 622.7 L164.8 627.5 L164.9 632.3 L165.0 637.2 L165.1 642.0 L165.2 646.8 L165.4 651.7 L165.6 656.5 L165.8 661.3 L166.0 666.2 L166.3 671.0 L166.6 675.8 L166.9 680.7 L167.3 685.5 L167.7 690.3 L168.1 695.2 L168.5 700.0 L169.0 704.8 L169.6 709.7 L170.2 714.5 L170.8 719.3 L171.6 724.2 L172.4 729.0 L173.3 733.8 L174.3 738.7 L175.5 743.5 L177.0 748.3 L179.0 753.2 L183.9 758.0" stroke-width="2.6"/>
</g>
<path d="M262.75 559.45 C269.15 559.45 272.75 582.95 272.75 612.85 C272.75 642.75 269.15 666.25 262.75 666.25 C256.35 666.25 252.75 642.75 252.75 612.85 C252.75 582.95 256.35 559.45 262.75 559.45Z" fill="#000"/><path d="M263.30 570.00 C264.58 570.00 266.50 586.60 266.50 611.50 C266.50 636.40 264.58 653.00 263.30 653.00 C262.02 653.00 260.10 636.40 260.10 611.50 C260.10 586.60 262.02 570.00 263.30 570.00Z" fill="#fff"/><ellipse cx="258.6" cy="587.0" rx="0.9" ry="1.6" fill="#fff" opacity="0.85"/><ellipse cx="263.7" cy="646.0" rx="0.9" ry="1.6" fill="#fff" opacity="0.85"/><ellipse cx="260.1" cy="582.2" rx="0.9" ry="1.6" fill="#fff" opacity="0.85"/><ellipse cx="259.4" cy="583.9" rx="0.9" ry="1.6" fill="#fff" opacity="0.85"/><ellipse cx="263.7" cy="579.7" rx="0.9" ry="1.6" fill="#fff" opacity="0.85"/><ellipse cx="259.3" cy="641.4" rx="0.9" ry="1.6" fill="#fff" opacity="0.85"/><ellipse cx="263.2" cy="646.3" rx="0.9" ry="1.6" fill="#fff" opacity="0.85"/>
<path d="M303.90 565.60 C309.98 565.60 313.40 586.10 313.40 612.20 C313.40 638.30 309.98 658.80 303.90 658.80 C297.82 658.80 294.40 638.30 294.40 612.20 C294.40 586.10 297.82 565.60 303.90 565.60Z" fill="#fff" stroke="#000" stroke-width="2.6"/><path d="M303.30 574.50 C307.01 574.50 309.10 591.66 309.10 613.50 C309.10 635.34 307.01 652.50 303.30 652.50 C299.59 652.50 297.50 635.34 297.50 613.50 C297.50 591.66 299.59 574.50 303.30 574.50Z" fill="none" stroke="#000" stroke-width="3.4"/><path d="M297.5 575 C297.5 569 298.5 566 303.5 565.8 C308 566 309.5 569 309.5 575 Z" fill="#000"/>
<g class="k" stroke-width="2">
<path d="M552.4 547.2 C546 547.5 541 553 537 563 C533 575 530 595 528 621 L525 621 C521 650 518 690 521 720.3 L541 720.3 C548 716 553 705 556 690 C559 672 560 655 559.5 640 C561 620 561.8 598 561.6 576 C561.5 562 558.5 548 552.4 547.2 Z" fill="#fff" stroke-width="2.4"/>
<path d="M551 548.5 C544.5 556 540.5 568 538 580 C535.5 595 534 608 533.5 622" stroke-width="1.8"/>
<path d="M553.5 549 C548.5 558 545.5 572 543.5 586 C542 600 541.5 612 541 624" stroke-width="1.8"/>
<path d="M556.5 551 C556.5 570 556 600 555.5 626" stroke-width="1.8"/>
<path d="M525 621 C521 650 519 690 521.5 720" stroke-width="2.2"/>
<path d="M528.2 621 C524.2 650 522.2 690 524.7 720" stroke-width="1.6"/>
<path d="M531.4 621 C527.4 650 525.4 690 527.9 720" stroke-width="1.6"/>
<path d="M535.5 621 C531.5 650 529.5 690 532.0 720" stroke-width="2"/>
<path d="M533.5 622 C531.5 640 532 660 534 680 C536 700 538 712 540 720" stroke-width="1.7"/>
<path d="M541 624 C539 640 539.5 655 541.5 670 C543 685 545 700 546 712" stroke-width="1.7"/>
<path d="M548 626 C552 645 553 665 551 685 C549.5 697 547 707 544 714" stroke-width="1.8"/>
<path d="M526 621.5 C536 619.5 548 619.5 556 622" stroke-width="2"/>
<path d="M524.8 640.8 H549.3 M525.5 657.8 H541.2" stroke-width="1.8"/>
<path d="M503 624.5 H526 L524.5 659.8 H498.3 L498.3 631 C498.3 627 500 624.5 503 624.5 Z" fill="#fff" stroke-width="2.2"/>
<path d="M502 626 C500.5 635 500.5 650 501.5 659" stroke-width="1.4"/>
<path d="M498.3 651 H525" stroke-width="1.8"/>
<path d="M493 662.5 H516.7 C518 680 518.5 700 520.8 717 H493 C489.5 713 487.5 700 487.5 689 C487.5 677 489.5 666 493 662.5 Z" fill="#fff" stroke-width="2.4"/>
<path d="M494.5 664 C491.5 672 491 702 494.5 715" stroke-width="1.4"/>
<path d="M519.8 575.8 H563.7" stroke-width="2.3"/>
</g>
<g class="k">
<rect x="623" y="637.4" width="41.39999999999998" height="27.600000000000023" rx="4" fill="#000"/>
<path d="M627.6 636.6 l1.5 1.6 M627.6 665.8 l1.5 -1.6" stroke-width="1.2"/>
<path d="M632.2 636.6 l1.5 1.6 M632.2 665.8 l1.5 -1.6" stroke-width="1.2"/>
<path d="M636.8 636.6 l1.5 1.6 M636.8 665.8 l1.5 -1.6" stroke-width="1.2"/>
<path d="M641.4 636.6 l1.5 1.6 M641.4 665.8 l1.5 -1.6" stroke-width="1.2"/>
<path d="M646.0 636.6 l1.5 1.6 M646.0 665.8 l1.5 -1.6" stroke-width="1.2"/>
<path d="M650.6 636.6 l1.5 1.6 M650.6 665.8 l1.5 -1.6" stroke-width="1.2"/>
<path d="M655.2 636.6 l1.5 1.6 M655.2 665.8 l1.5 -1.6" stroke-width="1.2"/>
<path d="M659.8 636.6 l1.5 1.6 M659.8 665.8 l1.5 -1.6" stroke-width="1.2"/>
<path d="M664.4 637.9 H712.2 M664.4 664.5 H712.2" stroke-width="2"/>
<path d="M712.2 637.9 C710.2 645.4 710.2 657 712.2 664.5" stroke-width="2"/>
<path d="M712.2 637.9 L725 625.4000000000001 M712.2 664.5 L726 677.0" stroke-width="2"/>
<ellipse cx="726" cy="651.2" rx="6.2" ry="26.8" fill="#fff" stroke-width="2.4"/>
<ellipse cx="727" cy="651.2" rx="3.1" ry="16.6" fill="#000"/>
<path d="M727 643.2 V659.2" stroke="#fff" stroke-width="0.8"/>
</g>
<g class="k">
<rect x="612" y="676" width="41.5" height="27" rx="4" fill="#000"/>
<path d="M616.6 675.2 l1.5 1.6 M616.6 703.8 l1.5 -1.6" stroke-width="1.2"/>
<path d="M621.2 675.2 l1.5 1.6 M621.2 703.8 l1.5 -1.6" stroke-width="1.2"/>
<path d="M625.8 675.2 l1.5 1.6 M625.8 703.8 l1.5 -1.6" stroke-width="1.2"/>
<path d="M630.4 675.2 l1.5 1.6 M630.4 703.8 l1.5 -1.6" stroke-width="1.2"/>
<path d="M635.1 675.2 l1.5 1.6 M635.1 703.8 l1.5 -1.6" stroke-width="1.2"/>
<path d="M639.7 675.2 l1.5 1.6 M639.7 703.8 l1.5 -1.6" stroke-width="1.2"/>
<path d="M644.3 675.2 l1.5 1.6 M644.3 703.8 l1.5 -1.6" stroke-width="1.2"/>
<path d="M648.9 675.2 l1.5 1.6 M648.9 703.8 l1.5 -1.6" stroke-width="1.2"/>
<path d="M653.5 676.5 H701.2 M653.5 702.5 H701.2" stroke-width="2"/>
<path d="M701.2 676.5 C699.2 684 699.2 695 701.2 702.5" stroke-width="2"/>
<path d="M701.2 676.5 L714 665.3 M701.2 702.5 L715 716.5" stroke-width="2"/>
<ellipse cx="715" cy="690.9" rx="6" ry="26.6" fill="#fff" stroke-width="2.4"/>
<ellipse cx="716" cy="690.9" rx="3.0" ry="16.5" fill="#000"/>
<path d="M716 682.9 V698.9" stroke="#fff" stroke-width="0.8"/>
</g>
<g class="k">
<path d="M881 519 L883.3 620 L884 667 C886 680 895 697 906 708 C915 716 928 724 941 728.3 L962.6 705.5 C950 701 938 699 928 692 C918 686 910 677 906 666 C903 658 902 640 900.6 620 L897.3 511 Z" fill="#fff" stroke-width="2.6"/>
<rect x="879.1" y="465.2" width="15.1" height="7" rx="2.5" fill="#000"/>
<rect x="874.7" y="470.6" width="22.6" height="9" rx="3" fill="#000"/>
<path d="M877 475 H894" stroke="#fff" stroke-width="1.4"/>
<path d="M874.7 479 H923.6 V512.3 H897 V520.3 H874.7 Z" fill="#000"/>
<path d="M878 505 C880 510 884 513 889 514" stroke="#fff" stroke-width="2"/>
<path d="M886 484 C882 488 881 502 885 508" stroke="#fff" stroke-width="1.8"/>
<path d="M890 484 C886 488 885 502 889 508" stroke="#fff" stroke-width="1.3"/>
<path d="M894 484 C890 488 889 502 893 508" stroke="#fff" stroke-width="1.8"/>
<path d="M898 484 C894 488 893 502 897 508" stroke="#fff" stroke-width="1.3"/>
<path d="M902 484 C898 488 897 502 901 508" stroke="#fff" stroke-width="1.8"/>
<path d="M906 484 C902 488 901 502 905 508" stroke="#fff" stroke-width="1.3"/>
<path d="M910 484 C906 488 905 502 909 508" stroke="#fff" stroke-width="1.8"/>
<path d="M909.5 487 L915 484 L920.5 488 L920.5 503 L915 507 L909.5 503 Z" fill="#fff" stroke="none"/>
<path d="M915 490 L918 499 L912 499 Z" fill="#000" stroke="none"/>
<path d="M941.4 705 L964.1 703.2 L964.1 748 C962 753 957 755 950 755 C946 755 943 752 942.5 747 Z" fill="#fff" stroke-width="2.6"/>
<circle cx="950.8" cy="713.8" r="6.2" fill="#000"/>
<circle cx="950" cy="712.5" r="2" fill="#fff"/>
<path d="M943 730 C947 727.5 956 727.5 961 730" stroke-width="1.8"/>
<path d="M943.5 737.5 C947 735.5 956 735.5 961 737.5" stroke-width="4.2"/>
<path d="M963.2 704 V748" stroke-width="3.4"/>
<path d="M940 706 C933 704 929 708 930 714 C931 719 936 720 940 718" fill="#fff" stroke-width="1.8"/>
<path d="M942 709 C938 709 936 712 937 715" stroke-width="1.2"/>
</g>
<g fill="none" stroke="#333" stroke-linejoin="round">
<ellipse cx="1034.4" cy="735.4" rx="19.4" ry="21.2" fill="#fff" stroke-width="1.3"/>
<path d="M1040 715 C1050 717 1055 727 1055 736 C1055 747 1049 755 1040 756.5" stroke-width="1.3"/>
<ellipse cx="1032.2" cy="735.3" rx="5.4" ry="7.8" stroke-width="1.3"/>
<path d="M1030 728 C1028.5 731 1028.5 740 1030 742.5" stroke-width="1"/>
<path d="M1032 735.3 H1040" stroke="#888" stroke-width="0.8"/>
<circle cx="1042" cy="721.3" r="0.8" fill="#333"/>
<path d="M1113.0 717.9 L1079.2 747.6 C1077.3 749.3 1079.9 753.0 1082.6 756.0 C1085.2 759.0 1088.5 762.0 1090.4 760.4 L1124.2 730.7" fill="#fff" stroke-width="1.5"/>
<path d="M1077.1 750.1 C1079.8 754.4 1085.5 760.1 1090.2 760.9" stroke-width="2.2"/>
<path d="M1080.3 758.0 L1126.1 717.7" stroke="#777" stroke-width="0.8"/>
<ellipse cx="1118.6" cy="724.3" rx="21" ry="4" transform="rotate(48.7 1118.6 724.3)" fill="#fff" stroke-width="1.4"/>
<ellipse cx="1119.3999999999999" cy="723.6999999999999" rx="18" ry="1.8" transform="rotate(48.7 1119.3999999999999 723.6999999999999)" stroke-width="0.9"/>
<path d="M1111.5 713.2 L1123.0 703.1 L1140.2 722.6 L1128.7 732.7 Z" fill="#fff" stroke-width="1.3"/>
<path d="M1115.8 718.1 L1127.3 708.0 M1124.4 727.9 L1135.9 717.8" stroke-width="1.2"/>
<ellipse cx="1131.6" cy="712.9" rx="15" ry="4.2" transform="rotate(48.7 1131.6 712.9)" fill="#fff" stroke-width="1.5"/>
<path d="M1123.0 703.1 L1127.3 708.0 M1135.9 717.8 L1140.2 722.6" stroke-width="1.8"/>
<circle cx="1120.6" cy="714.5" r="0.9" fill="#222"/>
</g>
<path d="M498.35 197.50 C505.29 197.50 509.20 222.47 509.20 254.25 C509.20 286.03 505.29 311.00 498.35 311.00 C491.41 311.00 487.50 286.03 487.50 254.25 C487.50 222.47 491.41 197.50 498.35 197.50Z" fill="#000"/><path d="M498.35 217.25 C499.69 217.25 501.70 232.45 501.70 255.25 C501.70 278.05 499.69 293.25 498.35 293.25 C497.01 293.25 495.00 278.05 495.00 255.25 C495.00 232.45 497.01 217.25 498.35 217.25Z" fill="#fff"/><ellipse cx="491.4" cy="260.5" rx="0.9" ry="1.6" fill="#fff" opacity="0.85"/><ellipse cx="504.6" cy="270.9" rx="0.9" ry="1.6" fill="#fff" opacity="0.85"/><ellipse cx="503.6" cy="230.3" rx="0.9" ry="1.6" fill="#fff" opacity="0.85"/><ellipse cx="505.0" cy="241.4" rx="0.9" ry="1.6" fill="#fff" opacity="0.85"/><ellipse cx="502.6" cy="226.0" rx="0.9" ry="1.6" fill="#fff" opacity="0.85"/><ellipse cx="491.3" cy="249.4" rx="0.9" ry="1.6" fill="#fff" opacity="0.85"/><ellipse cx="502.8" cy="226.9" rx="0.9" ry="1.6" fill="#fff" opacity="0.85"/>
<path d="M774.50 197.00 C781.22 197.00 785.00 222.08 785.00 254.00 C785.00 285.92 781.22 311.00 774.50 311.00 C767.78 311.00 764.00 285.92 764.00 254.00 C764.00 222.08 767.78 197.00 774.50 197.00Z" fill="#000"/><path d="M774.30 217.00 C775.66 217.00 777.70 232.20 777.70 255.00 C777.70 277.80 775.66 293.00 774.30 293.00 C772.94 293.00 770.90 277.80 770.90 255.00 C770.90 232.20 772.94 217.00 774.30 217.00Z" fill="#fff"/><ellipse cx="768.8" cy="274.4" rx="0.9" ry="1.6" fill="#fff" opacity="0.85"/><ellipse cx="772.9" cy="288.9" rx="0.9" ry="1.6" fill="#fff" opacity="0.85"/><ellipse cx="768.7" cy="234.2" rx="0.9" ry="1.6" fill="#fff" opacity="0.85"/><ellipse cx="769.3" cy="277.8" rx="0.9" ry="1.6" fill="#fff" opacity="0.85"/><ellipse cx="773.3" cy="289.3" rx="0.9" ry="1.6" fill="#fff" opacity="0.85"/><ellipse cx="776.7" cy="220.0" rx="0.9" ry="1.6" fill="#fff" opacity="0.85"/><ellipse cx="773.7" cy="218.4" rx="0.9" ry="1.6" fill="#fff" opacity="0.85"/>
<path d="M971.25 197.50 C977.81 197.50 981.50 222.69 981.50 254.75 C981.50 286.81 977.81 312.00 971.25 312.00 C964.69 312.00 961.00 286.81 961.00 254.75 C961.00 222.69 964.69 197.50 971.25 197.50Z" fill="#000"/><path d="M971.00 217.00 C972.32 217.00 974.30 232.40 974.30 255.50 C974.30 278.60 972.32 294.00 971.00 294.00 C969.68 294.00 967.70 278.60 967.70 255.50 C967.70 232.40 969.68 217.00 971.00 217.00Z" fill="#fff"/><ellipse cx="965.0" cy="241.2" rx="0.9" ry="1.6" fill="#fff" opacity="0.85"/><ellipse cx="969.5" cy="289.5" rx="0.9" ry="1.6" fill="#fff" opacity="0.85"/><ellipse cx="972.6" cy="290.0" rx="0.9" ry="1.6" fill="#fff" opacity="0.85"/><ellipse cx="972.4" cy="290.2" rx="0.9" ry="1.6" fill="#fff" opacity="0.85"/><ellipse cx="967.0" cy="226.9" rx="0.9" ry="1.6" fill="#fff" opacity="0.85"/><ellipse cx="977.7" cy="244.1" rx="0.9" ry="1.6" fill="#fff" opacity="0.85"/><ellipse cx="966.2" cy="231.0" rx="0.9" ry="1.6" fill="#fff" opacity="0.85"/>
<path d="M589.80 193.80 C596.84 193.80 600.80 220.73 600.80 255.00 C600.80 289.27 596.84 316.20 589.80 316.20 C582.76 316.20 578.80 289.27 578.80 255.00 C578.80 220.73 582.76 193.80 589.80 193.80Z" fill="#000"/><path d="M589.50 209.30 C591.34 209.30 594.10 227.58 594.10 255.00 C594.10 282.42 591.34 300.70 589.50 300.70 C587.66 300.70 584.90 282.42 584.90 255.00 C584.90 227.58 587.66 209.30 589.50 209.30Z" fill="#fff"/><ellipse cx="597.6" cy="255.8" rx="0.9" ry="1.6" fill="#fff" opacity="0.85"/><ellipse cx="582.3" cy="242.9" rx="0.9" ry="1.6" fill="#fff" opacity="0.85"/><ellipse cx="583.9" cy="281.7" rx="0.9" ry="1.6" fill="#fff" opacity="0.85"/><ellipse cx="593.3" cy="218.1" rx="0.9" ry="1.6" fill="#fff" opacity="0.85"/><ellipse cx="597.6" cy="250.9" rx="0.9" ry="1.6" fill="#fff" opacity="0.85"/><ellipse cx="596.4" cy="232.8" rx="0.9" ry="1.6" fill="#fff" opacity="0.85"/><ellipse cx="582.1" cy="260.3" rx="0.9" ry="1.6" fill="#fff" opacity="0.85"/>
<path d="M547.90 196.40 C554.56 196.40 558.30 220.95 558.30 252.20 C558.30 283.45 554.56 308.00 547.90 308.00 C541.24 308.00 537.50 283.45 537.50 252.20 C537.50 220.95 541.24 196.40 547.90 196.40Z" fill="#fff" stroke="#000" stroke-width="2.6"/><path d="M547.40 208.50 C551.43 208.50 553.70 228.74 553.70 254.50 C553.70 280.26 551.43 300.50 547.40 300.50 C543.37 300.50 541.10 280.26 541.10 254.50 C541.10 228.74 543.37 208.50 547.40 208.50Z" fill="none" stroke="#000" stroke-width="3.8"/><path d="M540.5 214 C541 204 544.5 197.5 548 197.5 C552 197.5 555 205 555.5 214 Z" fill="#000"/>
<path d="M480.7 254.6 H487.5 M500 254.6 H524 M534.8 254.6 H537.7 M545 254.6 H578 M587.9 254.6 H595.7 M608.5 254.6 H620.3 M700 254.6 H738.5 M750.3 254.6 H756.2 M768 254.6 H790 M799.7 254.6 H805 M869 254.6 H891 M899.7 254.6 H911.2 M922.6 254.6 H945.3 M955 254.6 H958 M968 254.6 H974 M984.6 254.6 H1000 M1008 254.6 H1067 M1083 254.6 H1088.6 M1150.7 254.6 H1161.4 M1172 254.6 H1180.7" stroke="#000" stroke-width="2.4"/>
<path d="M1140 230.5 H1152.8 M1164.7 273.2 H1173.7 M1141 230.5 V322" stroke="#000" stroke-width="1.8"/>
<path d="M198.4 612.9 H210.5 M220 612.9 H244 M258.7 612.9 H263 M270.7 612.9 H296.5 M305 612.9 H318 M327.5 612.9 H350.8 M360.2 612.9 H371.4 M380 612.9 H394.7" stroke="#000" stroke-width="2.4"/>
<path d="M549 650.9 H571 M581 650.9 H591.5 M601.5 650.9 H623 M540 689.8 H566 M577 689.8 H587.3 M597 689.8 H612" stroke="#000" stroke-width="2.4"/>
<g stroke="#000" stroke-width="2.9" stroke-linecap="round" fill="none">
<line x1="264.7" y1="170" x2="264.7" y2="212"/>
<line x1="496.6" y1="157" x2="496.6" y2="197"/>
<line x1="548.5" y1="152" x2="548.5" y2="196"/>
<line x1="588.4" y1="151" x2="588.4" y2="193"/>
<line x1="635.6" y1="154" x2="635.6" y2="198"/>
<line x1="701" y1="129" x2="701" y2="170"/>
<line x1="774.4" y1="162" x2="774.4" y2="196"/>
<line x1="857.6" y1="80" x2="857.6" y2="100"/>
<line x1="971.4" y1="153" x2="971.4" y2="196"/>
<line x1="1045.3" y1="151" x2="1045.3" y2="195"/>
<line x1="1142.6" y1="121" x2="1142.6" y2="160"/>
<line x1="398.2" y1="452" x2="398.2" y2="487"/>
<line x1="162.3" y1="761" x2="162.3" y2="776"/>
<line x1="262.5" y1="669" x2="262.5" y2="695"/>
<line x1="304" y1="661" x2="304" y2="693"/>
<line x1="553.7" y1="515" x2="553.7" y2="545"/>
<line x1="681.5" y1="610" x2="681.5" y2="635"/>
<line x1="683.4" y1="707" x2="683.4" y2="733"/>
</g>
<g stroke="#222" stroke-width="1.8" fill="none"><line x1="900" y1="587.2" x2="938" y2="587.2"/><line x1="1034.3" y1="668" x2="1034.3" y2="715" stroke="#555" stroke-width="2.4"/><line x1="1122.3" y1="664" x2="1122.3" y2="702" stroke="#555" stroke-width="2.4"/></g>
<g font-family="Liberation Serif, serif" font-size="32" fill="#111" stroke="#fff" stroke-width="0.55" text-anchor="middle">
<text x="265" y="164.9">1</text>
<text x="494" y="150.9">2</text>
<text x="547.2" y="145.9">3</text>
<text x="585.8" y="146.9">4</text>
<text x="634" y="148.4">5</text>
<text x="699.3" y="123.9">6</text>
<text x="773.2" y="156.9">2</text>
<text x="855.6" y="74.9">9</text>
<text x="970" y="146.9">2</text>
<text x="1043.8" y="144.9">10</text>
<text x="1143.3" y="117.9">11</text>
<text x="396.6" y="513.9">12</text>
<text x="161.6" y="800.9">13</text>
<text x="261.4" y="719.9">14</text>
<text x="302.9" y="716.9">15</text>
<text x="553.5" y="508.9">7</text>
<text x="679.2" y="604.9">8</text>
<text x="684.1" y="759.9">8</text>
<text x="953" y="597.9">16</text>
</g>
<g font-family="Liberation Serif, serif" font-size="32" font-weight="bold" fill="#000" stroke="#fff" stroke-width="0.8" text-anchor="middle">
<text x="1035.3" y="655.6" transform="translate(1035.3 0) scale(0.83 1) translate(-1035.3 0)">17</text>
<text x="1125.4" y="650.6" transform="translate(1125.4 0) scale(0.83 1) translate(-1125.4 0)">18</text>
</g>
</svg>
</body></html>
